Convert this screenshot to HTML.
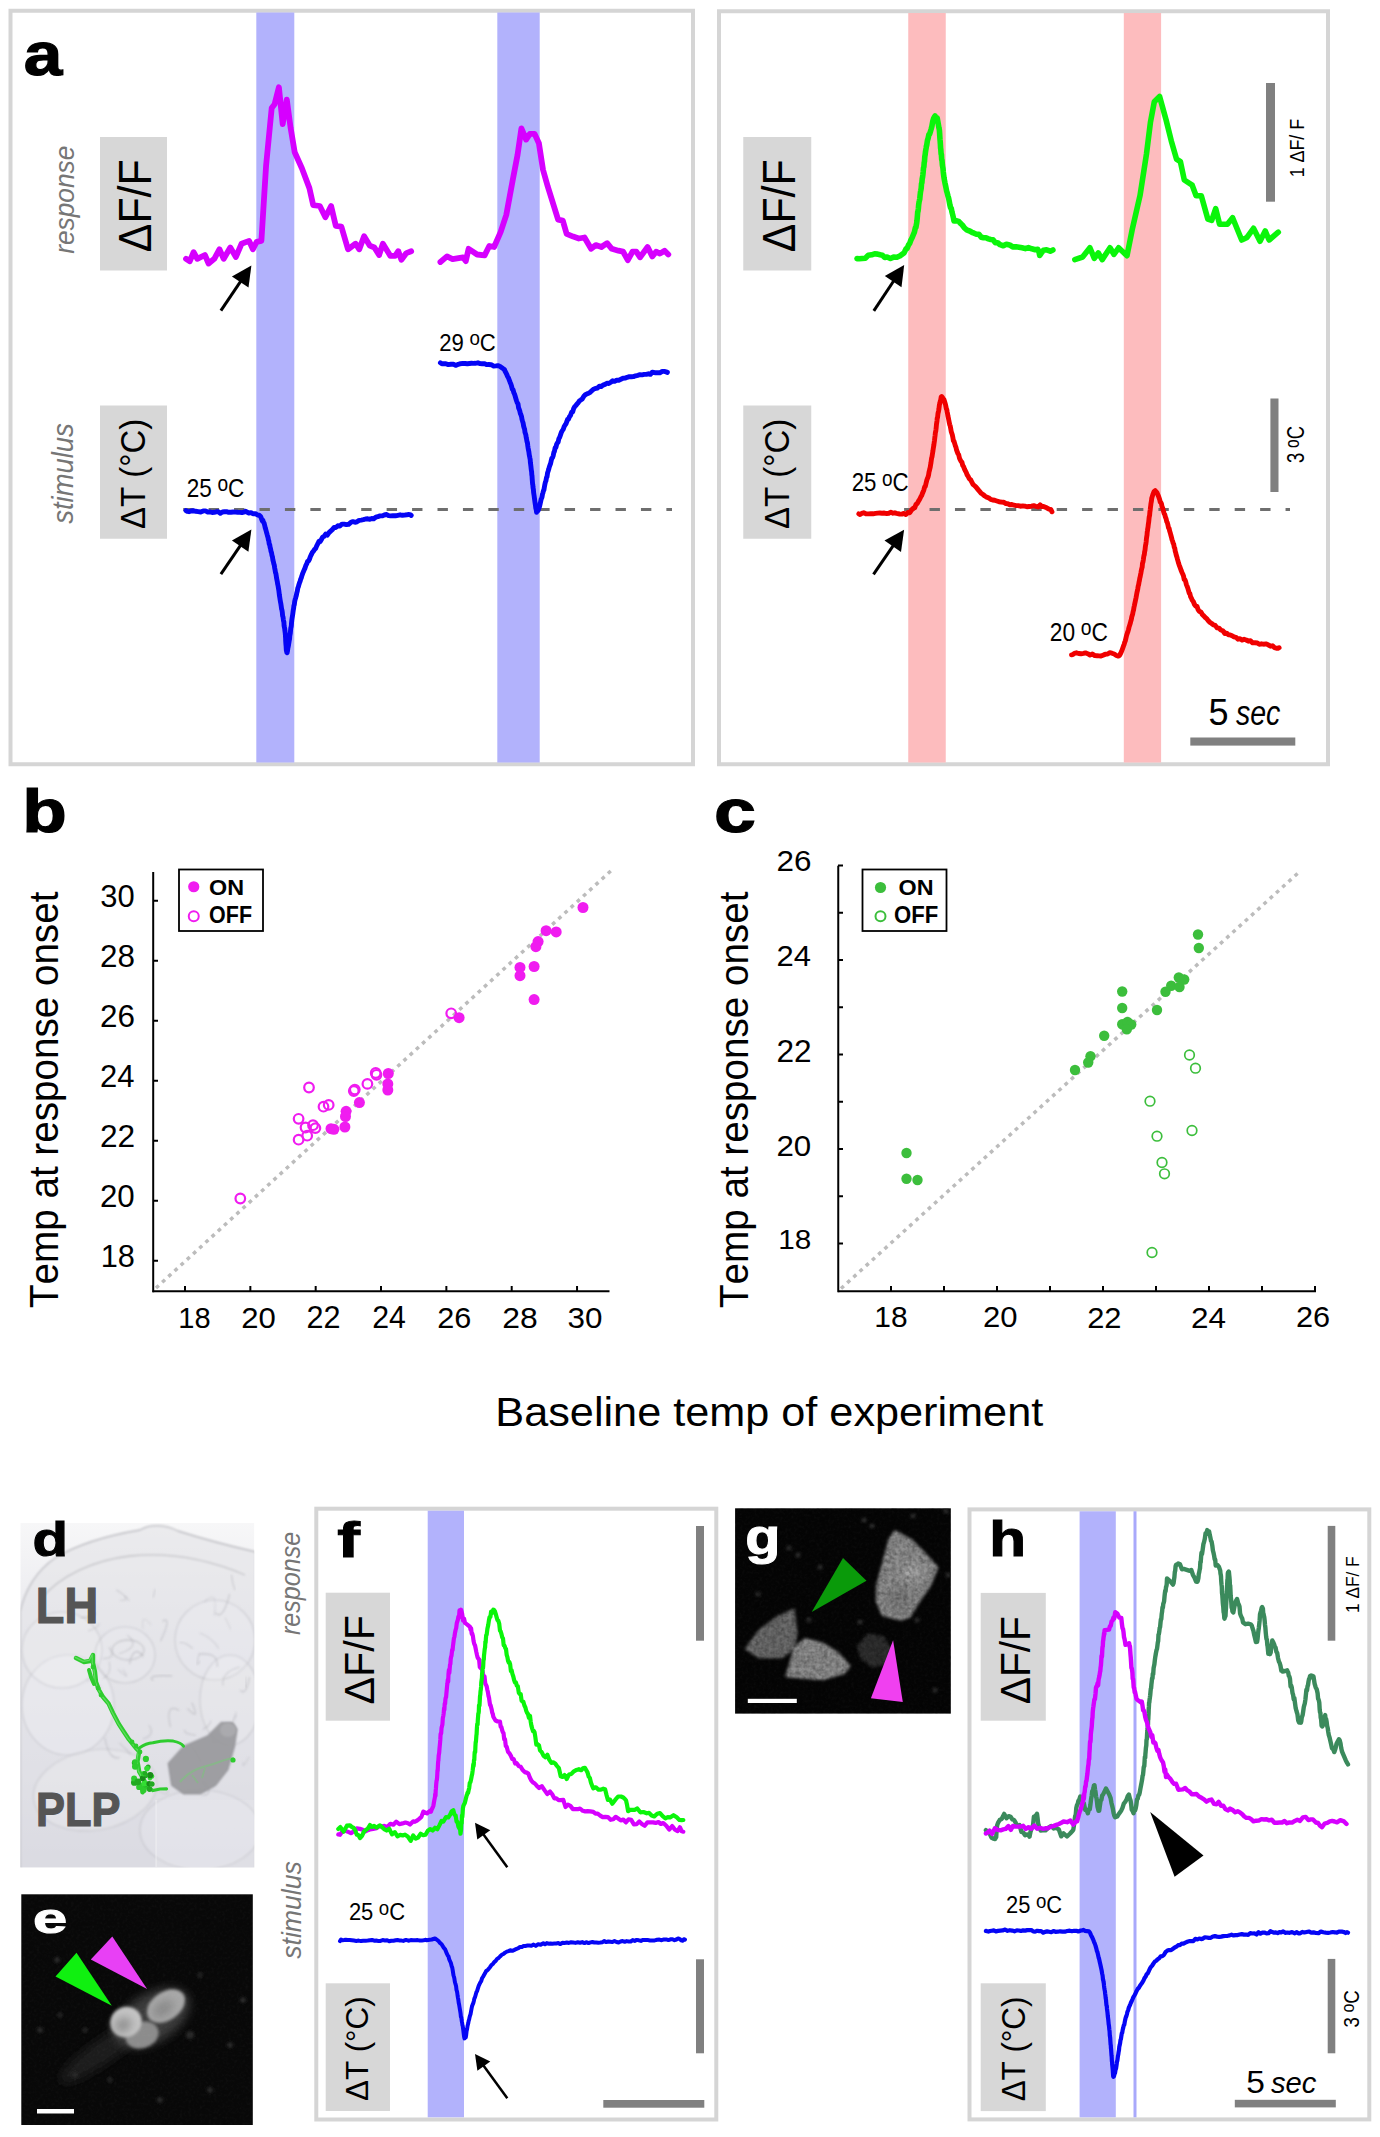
<!DOCTYPE html><html><head><meta charset="utf-8"><style>html,body{margin:0;padding:0;background:#fff;}svg{display:block;}text{font-family:"Liberation Sans", sans-serif;font-kerning:none;}</style></head><body>
<svg width="1380" height="2137" viewBox="0 0 1380 2137">
<defs></defs>
<rect x="0" y="0" width="1380" height="2137" fill="#fff"/>
<rect x="10.5" y="10.75" width="682.5" height="753.5" fill="none" stroke="#d5d5d5" stroke-width="4"/>
<rect x="719" y="11.25" width="609" height="753" fill="none" stroke="#d5d5d5" stroke-width="4"/>
<rect x="256.3" y="12.5" width="38" height="750" fill="#b2b2fc"/>
<rect x="497.3" y="12.5" width="42.4" height="750" fill="#b2b2fc"/>
<rect x="908.25" y="13" width="37.5" height="749.5" fill="#fdbcbe"/>
<rect x="1123.8" y="13" width="37.3" height="749.5" fill="#fdbcbe"/>
<rect x="100.00" y="137.00" width="67.00" height="133.50" fill="#d7d7d7"/>
<rect x="100.00" y="405.50" width="67.00" height="133.25" fill="#d7d7d7"/>
<rect x="743.25" y="137.00" width="68.00" height="133.50" fill="#d7d7d7"/>
<rect x="743.25" y="405.50" width="68.00" height="133.25" fill="#d7d7d7"/>
<rect x="325.70" y="1592.70" width="64.30" height="128.00" fill="#d7d7d7"/>
<rect x="325.70" y="1983.30" width="64.30" height="127.70" fill="#d7d7d7"/>
<rect x="980.70" y="1592.90" width="65.10" height="127.80" fill="#d7d7d7"/>
<rect x="980.70" y="1983.30" width="65.10" height="127.80" fill="#d7d7d7"/>
<line x1="183.2" y1="509.6" x2="672" y2="509.6" stroke="#6e6e6e" stroke-width="3" stroke-dasharray="10.4 15.03"/>
<line x1="904.1" y1="509.6" x2="1290" y2="509.6" stroke="#6e6e6e" stroke-width="3" stroke-dasharray="10.4 15.03"/>
<polyline points="186.0,258.8 189.8,261.2 193.6,252.2 197.3,258.8 204.9,255.0 208.6,263.5 214.3,258.8 219.4,249.3 223.7,258.8 230.3,247.5 235.9,256.9 241.6,243.7 249.1,240.9 252.9,249.3 256.7,241.8 261.4,240.9 264.2,195.7 266.1,165.5 271.7,108.0 274.6,104.3 278.9,87.3 282.7,124.1 286.8,99.6 290.6,127.8 294.7,152.3 301.9,168.3 309.4,188.1 313.2,205.1 319.8,206.0 325.4,217.3 331.1,206.0 335.8,225.8 341.4,226.7 348.0,249.3 355.6,243.7 359.3,249.3 364.1,236.2 369.7,245.6 374.4,247.5 379.1,255.0 382.9,243.7 390.4,255.9 395.1,255.9 398.3,251.2 401.4,259.7 406.4,253.1 411.2,251.2" fill="none" stroke="#d600ff" stroke-width="5.8" stroke-linejoin="round" stroke-linecap="round" />
<polyline points="440.4,262.0 447.0,256.4 452.6,259.2 463.0,257.3 465.8,261.1 468.6,248.8 477.1,254.5 484.6,255.4 489.3,246.0 494.1,247.0 500.7,231.9 506.3,214.9 512.9,179.1 517.6,154.6 521.4,128.3 526.1,139.6 529.9,133.9 534.6,133.9 538.9,143.3 543.0,169.7 547.8,186.7 558.1,219.6 562.8,220.6 566.6,233.8 573.2,236.6 578.8,238.5 584.5,237.5 591.1,248.8 595.8,245.1 601.4,247.0 607.1,243.2 611.8,248.8 618.4,250.7 623.1,251.7 627.8,260.1 632.5,251.7 636.3,251.7 640.1,257.3 647.6,247.0 652.3,256.4 656.1,251.7 659.9,253.6 664.6,250.7 668.3,254.5" fill="none" stroke="#d600ff" stroke-width="5.8" stroke-linejoin="round" stroke-linecap="round" />
<polyline points="186.0,510.6 187.3,511.4 189.0,511.7 191.0,511.0 193.3,510.7 195.7,511.3 198.2,511.6 200.7,512.0 203.2,510.9 205.5,510.9 207.7,512.0 209.9,511.9 212.1,512.5 214.2,512.3 216.2,511.8 218.3,511.8 220.3,513.3 222.4,512.0 224.4,511.8 226.5,511.6 228.7,512.3 230.9,512.3 233.2,512.0 235.5,512.1 237.8,512.3 239.9,512.4 242.0,512.6 243.8,512.2 245.4,511.3 248.8,513.0 251.0,512.6 252.9,513.8 255.4,513.6 257.6,515.0 259.1,515.2 260.7,516.6 262.3,520.8 262.9,520.4 263.5,522.4 264.1,523.1 264.7,525.5 265.3,528.1 265.9,530.0 266.6,532.7 267.3,535.2 268.0,537.5 268.4,539.9 268.8,540.9 269.2,544.0 269.7,544.7 270.1,547.2 270.6,548.9 271.0,551.4 271.5,552.7 272.0,555.6 272.5,557.1 272.9,560.0 273.4,561.8 273.8,563.7 274.3,565.3 274.7,568.2 275.1,570.1 275.5,572.7 275.9,573.7 276.3,576.2 276.6,578.3 277.0,580.2 277.4,582.3 277.7,584.3 278.1,586.0 278.4,587.9 278.8,590.3 279.1,592.8 279.4,595.3 279.7,597.0 280.0,599.0 280.3,600.8 280.6,602.6 280.9,604.1 281.2,606.2 281.6,609.1 282.0,610.3 282.3,612.3 282.6,615.7 283.0,616.9 283.3,619.3 283.6,621.2 283.9,622.1 284.1,625.8 284.4,627.4 284.7,628.5 284.9,630.7 285.2,632.8 285.4,635.0 285.6,638.1 285.7,641.1 285.9,644.1 286.1,646.4 286.2,648.2 286.4,650.7 286.6,650.9 286.8,652.4 287.1,652.6 287.5,651.0 287.8,648.6 288.2,646.7 288.6,644.5 289.1,641.4 289.6,638.6 289.8,635.8 290.0,634.7 290.3,633.2 290.5,631.0 290.8,627.9 291.0,627.5 291.3,626.1 291.5,623.3 291.8,620.2 292.1,618.2 292.4,616.3 292.6,615.3 293.0,612.2 293.3,609.9 293.6,608.5 293.9,605.7 294.3,604.8 294.7,601.4 295.2,599.3 295.7,597.7 296.2,595.9 296.7,593.4 297.3,591.2 297.8,588.1 298.4,586.6 298.9,584.7 299.5,582.8 300.1,581.4 300.7,579.1 301.3,577.9 301.9,575.7 302.7,573.4 303.5,571.5 304.3,569.6 305.1,567.9 305.9,565.3 306.8,563.6 307.7,561.2 308.6,560.9 309.5,559.1 310.4,556.5 311.3,554.7 312.3,552.4 313.4,551.3 314.5,549.4 315.6,548.6 316.7,545.9 317.9,543.7 319.0,541.2 320.2,541.6 321.4,539.5 322.6,537.2 324.1,536.4 325.7,534.0 327.3,535.1 329.0,532.6 330.6,531.1 332.3,529.6 334.0,527.5 335.8,527.5 337.8,525.8 339.9,526.1 342.0,524.1 344.2,524.1 346.4,524.6 348.6,524.3 350.9,522.3 352.9,521.6 355.0,522.3 357.0,521.8 359.1,520.4 361.2,520.1 363.4,519.7 365.6,519.0 367.8,518.8 369.8,519.3 371.8,518.5 373.7,518.8 375.8,517.2 377.8,516.7 379.9,515.9 382.1,515.9 384.3,515.0 386.7,514.5 388.6,515.6 390.7,515.9 393.0,515.6 395.4,515.8 397.8,515.3 400.1,514.8 402.4,515.3 404.6,515.1 406.7,514.8 408.5,514.5 410.0,514.6 411.2,515.4" fill="none" stroke="#0505f5" stroke-width="4.9" stroke-linejoin="round" stroke-linecap="round" />
<polyline points="440.4,362.8 441.8,363.7 443.6,363.6 445.8,363.7 448.3,364.6 450.9,364.3 453.5,364.3 456.0,365.4 458.3,364.3 460.5,363.7 462.8,363.4 465.0,363.5 467.3,363.7 469.5,363.5 471.5,363.3 473.5,363.4 475.2,363.3 477.9,362.8 480.0,363.6 482.0,363.7 484.6,363.6 486.5,364.6 488.8,364.5 491.2,364.7 493.7,366.1 496.0,365.9 498.0,365.6 499.7,366.2 502.6,368.3 504.4,369.5 505.1,371.3 505.9,372.7 506.7,374.3 507.5,376.2 508.4,377.7 509.2,379.8 510.1,382.2 511.0,384.4 511.7,386.8 512.3,389.1 513.1,389.8 513.8,392.6 514.5,394.0 515.2,396.3 515.9,398.7 516.6,401.0 517.3,402.9 518.0,403.9 518.6,407.9 519.2,409.2 519.8,411.0 520.4,413.7 521.0,414.9 521.5,416.4 522.0,419.4 522.6,421.4 523.1,422.9 523.6,426.0 524.2,428.2 524.6,429.2 525.0,432.4 525.4,433.5 525.8,434.7 526.2,437.5 526.6,439.3 527.0,441.7 527.4,442.6 527.8,445.9 528.1,447.9 528.5,449.9 528.9,452.0 529.2,454.5 529.6,456.4 529.9,458.2 530.2,459.6 530.4,462.6 530.7,464.6 530.9,466.3 531.1,468.3 531.4,470.8 531.6,471.3 531.8,474.9 532.0,475.6 532.2,479.0 532.4,481.5 532.6,484.0 532.8,484.7 533.0,487.1 533.2,488.7 533.4,489.3 533.6,492.4 534.0,495.0 534.4,497.9 534.7,500.2 535.1,503.2 535.5,505.7 535.8,508.3 536.2,509.5 536.6,512.3 537.0,511.0 537.6,511.2 538.2,510.3 538.8,508.1 539.5,506.8 540.3,503.3 541.2,499.0 541.6,498.2 542.0,497.1 542.5,494.0 542.9,492.9 543.4,490.7 543.9,490.0 544.4,486.9 544.9,484.3 545.4,482.0 545.9,481.0 546.5,477.6 547.0,476.8 547.6,472.7 548.1,471.3 548.7,469.3 549.3,467.0 549.9,465.2 550.6,463.5 551.2,460.8 551.8,458.3 552.5,457.7 553.2,455.7 553.8,452.6 554.5,451.1 555.2,447.6 555.9,447.5 556.6,444.4 557.4,442.8 558.1,442.3 558.9,438.6 559.7,437.2 560.6,434.6 561.4,432.2 562.3,430.6 563.2,429.4 564.1,426.7 565.0,425.1 565.9,424.0 566.8,421.7 567.6,419.4 568.5,419.1 569.4,416.8 570.5,415.4 571.6,412.2 572.7,411.7 573.7,408.4 574.8,406.5 575.9,405.5 577.0,404.0 578.2,402.8 579.4,400.9 580.7,400.0 582.2,398.9 583.7,396.4 585.3,394.7 586.9,393.9 588.6,393.3 590.4,392.1 592.1,390.4 593.9,389.0 595.8,388.4 597.5,388.0 599.3,386.3 601.2,386.5 603.0,385.1 605.0,384.4 606.9,383.2 608.8,383.5 610.8,382.2 612.7,380.8 614.6,381.3 616.7,380.1 618.8,380.2 620.9,379.2 623.0,378.2 625.1,378.1 627.2,377.3 629.3,376.7 631.4,376.7 633.5,376.6 635.6,375.8 637.8,375.3 639.9,374.7 642.1,374.9 644.2,374.4 646.3,374.4 648.4,373.8 650.4,374.4 652.3,372.2 654.8,372.7 657.3,372.8 659.8,372.8 662.2,371.4 664.3,371.4 666.1,371.9 667.4,372.4" fill="none" stroke="#0505f5" stroke-width="4.9" stroke-linejoin="round" stroke-linecap="round" />
<polyline points="857.0,258.6 859.1,258.8 862.1,258.5 865.3,258.2 868.3,255.3 871.6,254.8 874.6,253.8 877.7,254.1 880.1,254.8 882.4,255.2 884.8,257.5 887.1,257.0 890.4,258.5 893.6,257.1 896.5,257.3 899.8,256.0 902.2,254.2 904.0,252.9 904.9,251.2 906.0,248.8 907.2,248.3 908.5,245.0 909.7,243.4 910.9,240.0 912.1,237.7 913.3,234.7 914.4,232.1 915.4,227.7 915.9,227.4 916.3,225.1 916.7,223.0 917.0,220.4 917.4,215.9 917.7,212.0 918.0,211.5 918.4,208.3 918.7,204.6 919.1,201.8 919.4,200.6 919.8,198.8 920.1,195.3 920.5,191.9 920.8,190.5 921.2,188.1 921.5,183.9 921.9,182.7 922.2,178.8 922.6,176.9 922.9,174.6 923.2,171.7 923.5,168.0 923.9,166.7 924.2,162.6 924.5,161.4 924.8,156.8 925.1,155.1 925.4,152.5 925.8,149.9 926.1,148.2 926.4,146.1 926.7,145.4 927.4,140.6 928.1,138.4 928.9,134.6 929.6,134.1 930.4,131.6 931.1,129.3 931.9,126.3 932.7,121.6 933.6,118.5 934.4,116.9 935.1,116.0 936.2,118.1 937.2,118.0 938.1,123.1 938.9,127.8 939.2,129.0 939.4,130.2 939.6,133.0 939.8,136.6 940.0,139.4 940.2,141.5 940.4,144.6 940.6,148.1 940.8,149.4 941.1,153.9 941.4,154.5 941.7,159.6 942.0,160.1 942.4,165.1 942.7,166.9 943.0,168.5 943.3,172.1 943.6,174.6 944.1,178.3 944.5,180.5 944.9,182.6 945.5,185.3 946.0,187.8 946.6,191.0 947.2,192.9 947.9,195.7 948.6,198.0 949.3,201.6 949.9,205.0 950.6,207.8 951.3,208.4 951.9,211.7 952.6,214.4 953.3,217.3 954.0,220.9 956.3,220.8 958.7,221.4 960.5,223.4 962.3,225.0 964.4,227.9 966.7,229.8 969.2,230.8 971.9,232.3 974.1,233.2 976.5,234.3 978.9,234.2 981.3,237.2 983.6,237.7 986.0,237.8 988.4,238.9 990.7,239.5 993.0,239.7 995.4,242.7 997.7,242.8 1000.1,244.7 1003.3,245.8 1006.4,244.2 1009.6,244.9 1012.7,246.9 1015.9,246.7 1019.0,247.2 1022.1,247.8 1025.3,248.6 1028.4,247.6 1031.8,248.8 1035.2,249.7 1037.8,249.2 1039.1,252.5 1039.7,255.5 1041.1,253.4 1043.5,250.3 1046.6,249.8 1050.3,251.2 1052.9,250.0" fill="none" stroke="#0af50a" stroke-width="5.6" stroke-linejoin="round" stroke-linecap="round" />
<polyline points="1074.8,259.6 1082.6,257.0 1089.9,247.8 1094.3,258.3 1098.3,253.0 1102.2,259.6 1110.0,247.8 1113.9,254.3 1118.6,247.8 1127.0,255.7 1132.2,229.6 1140.0,195.7 1146.5,153.9 1150.4,122.6 1154.3,101.7 1159.6,96.5 1166.1,120.0 1171.3,140.9 1176.5,159.1 1180.4,161.7 1184.3,180.0 1192.2,185.2 1196.1,195.7 1201.3,195.7 1207.8,219.1 1211.7,220.4 1215.7,208.7 1219.6,224.3 1227.4,224.3 1232.6,217.8 1241.7,240.0 1247.0,237.4 1253.5,228.3 1260.0,241.3 1265.2,230.9 1269.1,240.0 1278.3,232.2" fill="none" stroke="#0af50a" stroke-width="5.6" stroke-linejoin="round" stroke-linecap="round" />
<polyline points="858.8,513.8 860.1,514.5 861.7,513.4 863.7,512.8 865.9,513.8 868.3,513.9 870.7,513.8 873.1,513.8 875.5,513.4 877.7,513.1 879.8,513.0 882.1,513.2 884.3,513.0 886.6,513.6 888.8,513.3 890.9,512.3 893.0,513.2 894.8,512.8 896.5,513.4 899.6,514.0 901.9,514.1 903.9,513.4 905.9,514.5 907.9,512.5 909.8,512.7 911.6,509.9 913.5,508.1 914.8,507.6 916.0,504.3 917.2,503.6 918.5,501.1 919.7,499.2 921.0,496.5 921.7,495.6 922.4,493.4 923.1,491.9 923.8,490.2 924.6,487.0 925.3,486.5 926.0,483.5 926.7,480.6 927.3,478.8 928.0,477.1 928.6,474.8 929.0,472.2 929.4,470.7 929.8,468.9 930.2,467.4 930.6,464.8 930.9,463.3 931.3,460.3 931.6,458.2 932.0,456.8 932.3,454.8 932.7,452.3 933.0,450.5 933.3,448.3 933.6,446.5 933.9,444.8 934.2,442.5 934.5,440.5 934.8,437.7 935.1,435.5 935.4,432.4 935.7,431.6 936.0,429.3 936.2,427.4 936.5,424.1 936.7,422.8 937.0,420.8 937.2,418.3 937.5,417.8 937.7,416.2 938.0,413.3 938.5,411.3 938.9,409.2 939.4,404.9 939.8,403.5 940.2,401.6 940.7,400.0 941.2,397.0 941.7,396.5 942.4,397.3 943.2,398.9 944.0,399.6 944.8,402.3 945.6,404.9 946.4,408.9 946.8,409.7 947.2,412.0 947.6,414.0 948.0,416.3 948.4,418.0 948.8,420.1 949.3,422.7 949.7,424.6 950.2,425.9 950.7,428.5 951.2,431.4 951.7,433.0 952.3,434.8 952.8,437.2 953.4,440.8 954.0,441.2 954.7,443.6 955.3,445.7 956.0,447.4 956.6,450.2 957.3,452.0 958.0,453.7 958.7,454.8 959.5,458.2 960.3,459.9 961.1,461.5 961.9,462.1 962.7,465.4 963.6,466.7 964.5,469.1 965.3,470.8 966.2,472.4 967.2,475.0 968.1,476.2 969.3,478.8 970.5,479.5 971.7,481.8 973.0,484.4 974.3,485.5 975.6,486.6 976.9,488.1 978.1,489.6 979.4,491.2 981.2,493.3 983.0,494.5 984.8,496.0 986.7,497.2 988.6,497.8 990.7,499.4 992.6,500.0 994.7,500.3 996.8,501.0 999.0,501.7 1001.2,502.0 1003.5,502.2 1005.8,503.5 1007.8,503.7 1009.8,504.7 1011.9,504.5 1013.9,505.2 1016.1,505.6 1018.2,505.6 1020.5,506.2 1022.8,505.9 1024.8,506.1 1026.9,506.8 1029.1,506.5 1031.4,506.2 1033.7,505.7 1035.9,506.4 1038.1,507.0 1040.1,504.9 1041.9,506.6 1043.5,506.4 1046.7,507.8 1049.0,509.2 1050.8,509.5 1052.0,511.8" fill="none" stroke="#f00000" stroke-width="4.9" stroke-linejoin="round" stroke-linecap="round" />
<polyline points="1071.5,654.9 1072.7,654.7 1074.4,653.3 1076.4,652.8 1078.7,653.5 1081.0,653.8 1083.5,653.4 1085.5,652.9 1087.7,653.7 1090.0,655.0 1092.4,654.0 1094.8,655.6 1097.0,655.7 1099.1,655.9 1100.9,656.1 1103.7,654.9 1105.8,654.1 1107.6,654.1 1109.6,652.6 1111.9,653.2 1114.2,654.0 1116.4,655.5 1118.3,656.1 1119.6,655.3 1120.6,653.5 1121.5,651.5 1122.5,648.8 1123.7,645.4 1124.2,644.2 1124.8,642.0 1125.3,640.9 1125.9,638.4 1126.5,635.7 1127.1,633.8 1127.7,632.2 1128.4,629.9 1129.0,627.4 1129.6,625.4 1130.2,623.6 1130.7,621.5 1131.3,619.5 1131.8,616.8 1132.2,615.5 1132.7,613.9 1133.1,611.6 1133.5,610.3 1134.0,607.2 1134.4,605.5 1134.8,603.5 1135.3,601.2 1135.7,599.3 1136.1,597.4 1136.5,595.1 1136.9,592.8 1137.4,590.6 1137.8,588.7 1138.2,586.0 1138.6,584.9 1139.0,582.3 1139.4,580.6 1139.8,578.2 1140.2,576.7 1140.6,574.4 1141.0,572.4 1141.4,570.0 1141.8,568.4 1142.2,567.0 1142.5,563.2 1142.9,562.3 1143.3,560.1 1143.6,557.7 1144.0,555.3 1144.3,554.7 1144.6,551.9 1145.0,550.2 1145.3,547.3 1145.6,545.0 1145.9,543.8 1146.2,541.5 1146.4,538.9 1146.7,536.8 1147.0,535.1 1147.2,532.4 1147.5,530.4 1147.7,528.8 1148.0,527.3 1148.2,525.4 1148.5,523.2 1148.7,522.0 1149.0,518.9 1149.3,516.4 1149.6,515.5 1149.9,511.8 1150.2,510.1 1150.4,508.0 1150.7,505.7 1150.9,503.9 1151.2,502.3 1151.5,500.5 1151.7,498.5 1152.0,497.4 1153.0,494.1 1154.0,491.7 1155.2,490.7 1156.2,491.8 1157.2,493.1 1158.3,495.7 1159.6,499.3 1160.2,501.9 1160.8,502.5 1161.4,503.6 1162.0,506.5 1162.7,508.2 1163.4,511.0 1164.1,513.3 1164.8,514.7 1165.4,517.1 1166.1,518.7 1166.7,521.6 1167.3,522.5 1167.9,524.8 1168.5,527.9 1169.1,528.3 1169.6,530.8 1170.2,532.7 1170.8,535.0 1171.4,537.0 1172.0,539.6 1172.6,541.1 1173.1,543.1 1173.7,544.2 1174.2,547.1 1174.8,548.3 1175.3,551.6 1175.8,553.1 1176.4,555.7 1176.9,557.0 1177.5,559.4 1178.0,561.2 1178.6,563.3 1179.1,564.8 1179.8,566.7 1180.6,568.9 1181.3,570.8 1182.0,572.5 1182.8,574.2 1183.5,575.9 1184.2,579.4 1185.0,579.9 1185.7,581.7 1186.4,584.6 1187.1,586.3 1187.8,588.1 1188.5,590.7 1189.2,593.1 1189.9,593.7 1190.6,596.7 1191.4,598.1 1192.2,600.2 1193.3,601.5 1194.5,604.5 1195.7,606.2 1196.9,606.2 1198.2,609.8 1199.5,611.6 1200.9,611.9 1202.3,614.5 1203.8,615.9 1205.3,617.6 1206.8,618.7 1208.4,620.9 1210.0,622.4 1211.7,623.5 1213.4,624.9 1215.2,625.4 1217.0,627.8 1218.9,628.1 1220.8,630.0 1222.8,630.7 1224.8,633.5 1226.6,633.1 1228.4,634.8 1230.2,634.9 1232.1,635.7 1234.0,636.9 1236.0,637.3 1238.0,639.2 1240.0,638.6 1242.0,640.1 1244.1,639.3 1246.2,640.0 1248.3,641.2 1250.5,640.7 1252.7,642.9 1255.0,642.7 1257.4,643.0 1259.3,644.3 1261.4,643.8 1263.6,644.2 1265.9,643.9 1268.2,644.8 1270.5,646.2 1272.6,645.8 1274.6,647.7 1276.4,648.3 1277.9,648.4 1279.1,647.7" fill="none" stroke="#f00000" stroke-width="4.9" stroke-linejoin="round" stroke-linecap="round" />
<line x1="220.9" y1="310.6" x2="241.3" y2="280.3" stroke="#000" stroke-width="3"/>
<polygon points="251.4,265.4 248.5,287.6 231.9,276.4" fill="#000"/>
<line x1="220.9" y1="574.1" x2="241.2" y2="544.4" stroke="#000" stroke-width="3"/>
<polygon points="251.4,529.5 248.4,551.7 231.9,540.4" fill="#000"/>
<line x1="873.8" y1="310.8" x2="894.3" y2="280.0" stroke="#000" stroke-width="3"/>
<polygon points="904.2,265.0 901.5,287.2 884.8,276.1" fill="#000"/>
<line x1="873.5" y1="574.4" x2="893.9" y2="544.6" stroke="#000" stroke-width="3"/>
<polygon points="904.1,529.8 901.0,551.9 884.5,540.6" fill="#000"/>
<rect x="1266" y="83" width="9" height="118.7" fill="#808080"/>
<rect x="1270.4" y="398.5" width="8.1" height="93.5" fill="#808080"/>
<rect x="1190.3" y="737.5" width="105" height="8.1" fill="#808080"/>
<text transform="translate(23.77 74.90) scale(1.1281 1)" font-size="61.51" font-weight="bold" font-style="normal" fill="#000" stroke="#000" stroke-width="1.2">a</text>
<text transform="translate(73.81 253.74) rotate(-90) scale(0.9412 1)" font-size="27.90" font-weight="normal" font-style="italic" fill="#767676" >response</text>
<text transform="translate(73.21 523.77) rotate(-90) scale(0.9372 1)" font-size="29.28" font-weight="normal" font-style="italic" fill="#767676" >stimulus</text>
<text transform="translate(150.80 252.28) rotate(-90) scale(0.9336 1)" font-size="45.96" font-weight="normal" font-style="normal" fill="#000" >ΔF/F</text>
<text transform="translate(144.89 528.98) rotate(-90) scale(0.9599 1)" font-size="34.35" font-weight="normal" font-style="normal" fill="#000" >ΔT (°C)</text>
<text transform="translate(794.55 252.28) rotate(-90) scale(0.9336 1)" font-size="45.96" font-weight="normal" font-style="normal" fill="#000" >ΔF/F</text>
<text transform="translate(788.64 528.98) rotate(-90) scale(0.9599 1)" font-size="34.35" font-weight="normal" font-style="normal" fill="#000" >ΔT (°C)</text>
<g transform="translate(186.77 496.50) scale(0.8785 1)" font-size="25.64">
<text x="0" y="0">25</text>
<text x="34.9250" y="-5.8169" font-size="21.79">o</text>
<text x="47.0438" y="0">C</text>
</g>
<g transform="translate(439.29 350.60) scale(0.9083 1)" font-size="24.35">
<text x="0" y="0">29</text>
<text x="33.1690" y="-5.5244" font-size="20.69">o</text>
<text x="44.6785" y="0">C</text>
</g>
<g transform="translate(851.68 491.20) scale(0.8940 1)" font-size="24.92">
<text x="0" y="0">25</text>
<text x="33.9495" y="-5.6544" font-size="21.18">o</text>
<text x="45.7298" y="0">C</text>
</g>
<g transform="translate(1049.76 640.90) scale(0.8864 1)" font-size="25.64">
<text x="0" y="0">20</text>
<text x="34.9250" y="-5.8169" font-size="21.79">o</text>
<text x="47.0438" y="0">C</text>
</g>
<text transform="translate(1303.60 177.36) rotate(-90) scale(0.8687 1)" font-size="20.56" font-weight="normal" font-style="normal" fill="#000" >1 ΔF/ F</text>
<g transform="translate(1304.10 462.90) rotate(-90) scale(0.7900 1)" font-size="23.34">
<text x="0" y="0">3</text>
<text x="18.8202" y="-5.2969" font-size="19.84">o</text>
<text x="29.8558" y="0">C</text>
</g>
<text transform="translate(1208.46 725.05) scale(0.9986 1)" font-size="36.12" font-weight="normal" font-style="normal" fill="#000" >5</text>
<text transform="translate(1235.93 725.26) scale(0.8201 1)" font-size="34.86" font-weight="normal" font-style="italic" fill="#000" >sec</text>
<line x1="152.5" y1="1291.25" x2="609.5" y2="1291.25" stroke="#000" stroke-width="2"/>
<line x1="153.2" y1="872" x2="153.2" y2="1292.2" stroke="#000" stroke-width="2"/>
<line x1="185.00" y1="1291" x2="185.00" y2="1286" stroke="#000" stroke-width="2"/>
<line x1="250.34" y1="1291" x2="250.34" y2="1286" stroke="#000" stroke-width="2"/>
<line x1="315.68" y1="1291" x2="315.68" y2="1286" stroke="#000" stroke-width="2"/>
<line x1="381.02" y1="1291" x2="381.02" y2="1286" stroke="#000" stroke-width="2"/>
<line x1="446.36" y1="1291" x2="446.36" y2="1286" stroke="#000" stroke-width="2"/>
<line x1="511.70" y1="1291" x2="511.70" y2="1286" stroke="#000" stroke-width="2"/>
<line x1="577.04" y1="1291" x2="577.04" y2="1286" stroke="#000" stroke-width="2"/>
<line x1="153" y1="1260.75" x2="158" y2="1260.75" stroke="#000" stroke-width="2"/>
<line x1="153" y1="1200.75" x2="158" y2="1200.75" stroke="#000" stroke-width="2"/>
<line x1="153" y1="1140.75" x2="158" y2="1140.75" stroke="#000" stroke-width="2"/>
<line x1="153" y1="1080.75" x2="158" y2="1080.75" stroke="#000" stroke-width="2"/>
<line x1="153" y1="1020.75" x2="158" y2="1020.75" stroke="#000" stroke-width="2"/>
<line x1="153" y1="960.75" x2="158" y2="960.75" stroke="#000" stroke-width="2"/>
<line x1="153" y1="900.75" x2="158" y2="900.75" stroke="#000" stroke-width="2"/>
<text transform="translate(100.66 1267.05) scale(0.9979 1)" font-size="30.79" font-weight="normal" font-style="normal" fill="#000" >18</text>
<text transform="translate(99.93 1207.05) scale(1.0160 1)" font-size="30.79" font-weight="normal" font-style="normal" fill="#000" >20</text>
<text transform="translate(99.91 1147.35) scale(1.0131 1)" font-size="31.22" font-weight="normal" font-style="normal" fill="#000" >22</text>
<text transform="translate(99.94 1087.35) scale(0.9925 1)" font-size="31.22" font-weight="normal" font-style="normal" fill="#000" >24</text>
<text transform="translate(99.92 1027.05) scale(1.0208 1)" font-size="30.79" font-weight="normal" font-style="normal" fill="#000" >26</text>
<text transform="translate(99.92 967.05) scale(1.0203 1)" font-size="30.79" font-weight="normal" font-style="normal" fill="#000" >28</text>
<text transform="translate(100.32 907.05) scale(1.0040 1)" font-size="30.79" font-weight="normal" font-style="normal" fill="#000" >30</text>
<text transform="translate(178.28 1327.51) scale(0.9677 1)" font-size="30.08" font-weight="normal" font-style="normal" fill="#000" >18</text>
<text transform="translate(241.24 1327.51) scale(1.0333 1)" font-size="30.08" font-weight="normal" font-style="normal" fill="#000" >20</text>
<text transform="translate(306.46 1327.80) scale(1.0045 1)" font-size="30.51" font-weight="normal" font-style="normal" fill="#000" >22</text>
<text transform="translate(372.23 1327.80) scale(0.9920 1)" font-size="30.51" font-weight="normal" font-style="normal" fill="#000" >24</text>
<text transform="translate(437.21 1327.51) scale(1.0203 1)" font-size="30.08" font-weight="normal" font-style="normal" fill="#000" >26</text>
<text transform="translate(502.15 1327.51) scale(1.0606 1)" font-size="30.08" font-weight="normal" font-style="normal" fill="#000" >28</text>
<text transform="translate(567.55 1327.51) scale(1.0436 1)" font-size="30.08" font-weight="normal" font-style="normal" fill="#000" >30</text>
<line x1="156" y1="1288" x2="611" y2="870.75" stroke="#bcbcbc" stroke-width="3.5" stroke-dasharray="3.8 4.6"/>
<circle cx="309.0" cy="1087.5" r="4.8" fill="none" stroke="#f01cf0" stroke-width="2.2"/>
<circle cx="323.5" cy="1106.7" r="4.8" fill="none" stroke="#f01cf0" stroke-width="2.2"/>
<circle cx="328.7" cy="1104.9" r="4.8" fill="none" stroke="#f01cf0" stroke-width="2.2"/>
<circle cx="298.6" cy="1118.8" r="4.8" fill="none" stroke="#f01cf0" stroke-width="2.2"/>
<circle cx="305.5" cy="1127.5" r="4.8" fill="none" stroke="#f01cf0" stroke-width="2.2"/>
<circle cx="313.0" cy="1125.2" r="4.8" fill="none" stroke="#f01cf0" stroke-width="2.2"/>
<circle cx="315.4" cy="1128.1" r="4.8" fill="none" stroke="#f01cf0" stroke-width="2.2"/>
<circle cx="307.2" cy="1135.7" r="4.8" fill="none" stroke="#f01cf0" stroke-width="2.2"/>
<circle cx="298.6" cy="1139.7" r="4.8" fill="none" stroke="#f01cf0" stroke-width="2.2"/>
<circle cx="354.8" cy="1089.6" r="4.8" fill="none" stroke="#f01cf0" stroke-width="2.2"/>
<circle cx="353.8" cy="1091.0" r="4.8" fill="none" stroke="#f01cf0" stroke-width="2.2"/>
<circle cx="367.4" cy="1083.9" r="4.8" fill="none" stroke="#f01cf0" stroke-width="2.2"/>
<circle cx="375.7" cy="1073.0" r="4.8" fill="none" stroke="#f01cf0" stroke-width="2.2"/>
<circle cx="376.5" cy="1074.8" r="4.8" fill="none" stroke="#f01cf0" stroke-width="2.2"/>
<circle cx="451.2" cy="1013.3" r="4.8" fill="none" stroke="#f01cf0" stroke-width="2.2"/>
<circle cx="240.3" cy="1198.5" r="4.8" fill="none" stroke="#f01cf0" stroke-width="2.2"/>
<circle cx="388.3" cy="1073.5" r="5.5" fill="#f01cf0"/>
<circle cx="387.8" cy="1083.9" r="5.5" fill="#f01cf0"/>
<circle cx="387.8" cy="1090.0" r="5.5" fill="#f01cf0"/>
<circle cx="359.4" cy="1102.6" r="5.5" fill="#f01cf0"/>
<circle cx="346.1" cy="1111.3" r="5.5" fill="#f01cf0"/>
<circle cx="345.5" cy="1116.5" r="5.5" fill="#f01cf0"/>
<circle cx="344.9" cy="1127.0" r="5.5" fill="#f01cf0"/>
<circle cx="331.0" cy="1128.7" r="5.5" fill="#f01cf0"/>
<circle cx="333.9" cy="1129.3" r="5.5" fill="#f01cf0"/>
<circle cx="459.1" cy="1017.7" r="5.5" fill="#f01cf0"/>
<circle cx="583.0" cy="907.5" r="5.5" fill="#f01cf0"/>
<circle cx="546.1" cy="930.7" r="5.5" fill="#f01cf0"/>
<circle cx="556.2" cy="931.9" r="5.5" fill="#f01cf0"/>
<circle cx="538.1" cy="941.6" r="5.5" fill="#f01cf0"/>
<circle cx="535.9" cy="946.7" r="5.5" fill="#f01cf0"/>
<circle cx="520.0" cy="967.4" r="5.5" fill="#f01cf0"/>
<circle cx="520.0" cy="975.7" r="5.5" fill="#f01cf0"/>
<circle cx="534.1" cy="966.5" r="5.5" fill="#f01cf0"/>
<circle cx="534.1" cy="999.6" r="5.5" fill="#f01cf0"/>
<rect x="179" y="869.5" width="84" height="61.5" fill="#fff" stroke="#000" stroke-width="1.8"/>
<circle cx="193.75" cy="886.75" r="5.6" fill="#f01cf0"/>
<circle cx="193.75" cy="916.25" r="5" fill="none" stroke="#f01cf0" stroke-width="2"/>
<text transform="translate(209.04 894.78) scale(1.0175 1)" font-size="22.95" font-weight="bold" font-style="normal" fill="#000" >ON</text>
<text transform="translate(209.12 922.77) scale(0.9210 1)" font-size="23.30" font-weight="bold" font-style="normal" fill="#000" >OFF</text>
<text transform="translate(22.19 831.89) scale(1.1771 1)" font-size="61.96" font-weight="bold" font-style="normal" fill="#000" stroke="#000" stroke-width="1.2">b</text>
<text transform="translate(57.79 1307.97) rotate(-90) scale(0.9527 1)" font-size="40.54" font-weight="normal" font-style="normal" fill="#000" >Temp at response onset</text>
<line x1="838.25" y1="1291.25" x2="1316" y2="1291.25" stroke="#000" stroke-width="2"/>
<line x1="838.25" y1="865.75" x2="838.25" y2="1292.2" stroke="#000" stroke-width="2"/>
<line x1="891.00" y1="1291" x2="891.00" y2="1286" stroke="#000" stroke-width="2"/>
<line x1="944.00" y1="1291" x2="944.00" y2="1286" stroke="#000" stroke-width="2"/>
<line x1="997.00" y1="1291" x2="997.00" y2="1286" stroke="#000" stroke-width="2"/>
<line x1="1050.00" y1="1291" x2="1050.00" y2="1286" stroke="#000" stroke-width="2"/>
<line x1="1103.00" y1="1291" x2="1103.00" y2="1286" stroke="#000" stroke-width="2"/>
<line x1="1156.00" y1="1291" x2="1156.00" y2="1286" stroke="#000" stroke-width="2"/>
<line x1="1209.00" y1="1291" x2="1209.00" y2="1286" stroke="#000" stroke-width="2"/>
<line x1="1262.00" y1="1291" x2="1262.00" y2="1286" stroke="#000" stroke-width="2"/>
<line x1="1315.00" y1="1291" x2="1315.00" y2="1286" stroke="#000" stroke-width="2"/>
<line x1="838" y1="1243.50" x2="843" y2="1243.50" stroke="#000" stroke-width="2"/>
<line x1="838" y1="1196.25" x2="843" y2="1196.25" stroke="#000" stroke-width="2"/>
<line x1="838" y1="1149.00" x2="843" y2="1149.00" stroke="#000" stroke-width="2"/>
<line x1="838" y1="1101.75" x2="843" y2="1101.75" stroke="#000" stroke-width="2"/>
<line x1="838" y1="1054.50" x2="843" y2="1054.50" stroke="#000" stroke-width="2"/>
<line x1="838" y1="1007.25" x2="843" y2="1007.25" stroke="#000" stroke-width="2"/>
<line x1="838" y1="960.00" x2="843" y2="960.00" stroke="#000" stroke-width="2"/>
<line x1="838" y1="912.75" x2="843" y2="912.75" stroke="#000" stroke-width="2"/>
<line x1="838" y1="865.50" x2="843" y2="865.50" stroke="#000" stroke-width="2"/>
<text transform="translate(778.24 1249.03) scale(1.0680 1)" font-size="27.82" font-weight="normal" font-style="normal" fill="#000" >18</text>
<text transform="translate(776.43 1156.20) scale(1.0301 1)" font-size="30.37" font-weight="normal" font-style="normal" fill="#000" >20</text>
<text transform="translate(776.41 1061.50) scale(1.0369 1)" font-size="30.51" font-weight="normal" font-style="normal" fill="#000" >22</text>
<text transform="translate(776.44 966.25) scale(1.0818 1)" font-size="28.64" font-weight="normal" font-style="normal" fill="#000" >24</text>
<text transform="translate(776.42 871.47) scale(1.0856 1)" font-size="28.95" font-weight="normal" font-style="normal" fill="#000" >26</text>
<text transform="translate(874.22 1327.21) scale(1.0056 1)" font-size="29.80" font-weight="normal" font-style="normal" fill="#000" >18</text>
<text transform="translate(982.94 1327.21) scale(1.0415 1)" font-size="29.80" font-weight="normal" font-style="normal" fill="#000" >20</text>
<text transform="translate(1087.20 1327.50) scale(1.0221 1)" font-size="30.22" font-weight="normal" font-style="normal" fill="#000" >22</text>
<text transform="translate(1190.92 1327.50) scale(1.0414 1)" font-size="30.22" font-weight="normal" font-style="normal" fill="#000" >24</text>
<text transform="translate(1295.96 1327.21) scale(1.0300 1)" font-size="29.80" font-weight="normal" font-style="normal" fill="#000" >26</text>
<line x1="841" y1="1288.5" x2="1300" y2="871.25" stroke="#bcbcbc" stroke-width="3.5" stroke-dasharray="3.8 4.6"/>
<circle cx="1189.5" cy="1055.0" r="4.8" fill="none" stroke="#3cbe3c" stroke-width="1.7"/>
<circle cx="1195.5" cy="1068.2" r="4.8" fill="none" stroke="#3cbe3c" stroke-width="1.7"/>
<circle cx="1150.0" cy="1101.2" r="4.8" fill="none" stroke="#3cbe3c" stroke-width="1.7"/>
<circle cx="1192.0" cy="1130.5" r="4.8" fill="none" stroke="#3cbe3c" stroke-width="1.7"/>
<circle cx="1157.0" cy="1136.2" r="4.8" fill="none" stroke="#3cbe3c" stroke-width="1.7"/>
<circle cx="1162.0" cy="1162.5" r="4.8" fill="none" stroke="#3cbe3c" stroke-width="1.7"/>
<circle cx="1164.5" cy="1173.8" r="4.8" fill="none" stroke="#3cbe3c" stroke-width="1.7"/>
<circle cx="1152.0" cy="1252.5" r="4.8" fill="none" stroke="#3cbe3c" stroke-width="1.7"/>
<circle cx="1198.0" cy="934.5" r="5.2" fill="#3cbe3c"/>
<circle cx="1198.8" cy="948.0" r="5.2" fill="#3cbe3c"/>
<circle cx="1178.8" cy="977.5" r="5.2" fill="#3cbe3c"/>
<circle cx="1184.2" cy="979.5" r="5.2" fill="#3cbe3c"/>
<circle cx="1171.2" cy="985.8" r="5.2" fill="#3cbe3c"/>
<circle cx="1179.5" cy="987.0" r="5.2" fill="#3cbe3c"/>
<circle cx="1165.5" cy="991.8" r="5.2" fill="#3cbe3c"/>
<circle cx="1157.0" cy="1010.0" r="5.2" fill="#3cbe3c"/>
<circle cx="1122.2" cy="991.5" r="5.2" fill="#3cbe3c"/>
<circle cx="1122.2" cy="1008.0" r="5.2" fill="#3cbe3c"/>
<circle cx="1122.2" cy="1024.2" r="5.2" fill="#3cbe3c"/>
<circle cx="1127.5" cy="1022.0" r="5.2" fill="#3cbe3c"/>
<circle cx="1131.2" cy="1024.5" r="5.2" fill="#3cbe3c"/>
<circle cx="1126.8" cy="1029.2" r="5.2" fill="#3cbe3c"/>
<circle cx="1104.2" cy="1035.8" r="5.2" fill="#3cbe3c"/>
<circle cx="1090.5" cy="1056.2" r="5.2" fill="#3cbe3c"/>
<circle cx="1088.2" cy="1062.5" r="5.2" fill="#3cbe3c"/>
<circle cx="1075.0" cy="1070.0" r="5.2" fill="#3cbe3c"/>
<circle cx="906.5" cy="1153.0" r="5.2" fill="#3cbe3c"/>
<circle cx="906.5" cy="1178.8" r="5.2" fill="#3cbe3c"/>
<circle cx="917.5" cy="1180.0" r="5.2" fill="#3cbe3c"/>
<rect x="862.5" y="869.5" width="84" height="61.5" fill="#fff" stroke="#000" stroke-width="1.8"/>
<circle cx="880.5" cy="887.5" r="5.6" fill="#3cbe3c"/>
<circle cx="880.5" cy="916.25" r="5" fill="none" stroke="#3cbe3c" stroke-width="2"/>
<text transform="translate(898.54 894.78) scale(1.0175 1)" font-size="22.95" font-weight="bold" font-style="normal" fill="#000" >ON</text>
<text transform="translate(894.09 922.77) scale(0.9489 1)" font-size="23.30" font-weight="bold" font-style="normal" fill="#000" >OFF</text>
<text transform="translate(714.06 831.90) scale(1.2230 1)" font-size="61.60" font-weight="bold" font-style="normal" fill="#000" stroke="#000" stroke-width="1.2">c</text>
<text transform="translate(747.79 1307.97) rotate(-90) scale(0.9527 1)" font-size="40.54" font-weight="normal" font-style="normal" fill="#000" >Temp at response onset</text>
<text transform="translate(495.35 1426.43) scale(1.0472 1)" font-size="41.30" font-weight="normal" font-style="normal" fill="#000" >Baseline temp of experiment</text>
<rect x="316.3" y="1508.7" width="400" height="610.8" fill="none" stroke="#d5d5d5" stroke-width="4"/>
<rect x="427.7" y="1510.7" width="36.3" height="606.6" fill="#b2b2fc"/>
<polyline points="338.3,1834.4 340.0,1834.8 342.4,1831.4 345.2,1830.7 348.2,1831.9 351.3,1833.2 354.2,1830.9 356.7,1828.4 359.8,1828.8 362.7,1829.8 365.4,1831.3 367.8,1830.1 370.0,1829.5 373.1,1829.0 376.7,1828.3 378.9,1826.3 381.5,1826.5 384.4,1825.9 387.4,1826.9 390.4,1823.8 393.3,1824.7 396.2,1821.7 399.4,1824.2 402.5,1823.4 405.4,1822.5 408.0,1823.3 410.0,1824.6 413.3,1821.3 414.9,1821.8 417.0,1820.6 419.2,1818.8 421.4,1816.9 423.3,1811.6 427.0,1813.4 430.0,1810.8 430.9,1811.8 431.8,1809.3 432.6,1807.8 433.4,1805.7 434.2,1800.8 435.0,1796.9 435.2,1794.0 435.5,1796.0 435.7,1790.5 435.9,1789.0 436.2,1784.3 436.4,1782.3 436.6,1780.6 436.8,1780.3 437.1,1777.6 437.3,1774.2 437.5,1770.2 437.7,1770.8 438.0,1764.0 438.2,1761.4 438.4,1760.4 438.7,1755.5 438.9,1754.4 439.2,1752.6 439.5,1748.5 439.7,1746.5 440.0,1743.4 440.3,1739.9 440.6,1733.9 440.9,1734.0 441.2,1733.1 441.5,1728.3 441.8,1727.1 442.1,1725.6 442.4,1724.6 442.8,1718.3 443.1,1716.8 443.4,1715.3 443.7,1713.2 444.1,1708.0 444.4,1709.9 444.7,1703.7 445.1,1703.8 445.4,1699.5 445.7,1697.9 446.1,1697.2 446.4,1693.4 446.7,1690.2 447.1,1685.9 447.4,1683.6 447.8,1679.7 448.2,1681.7 448.5,1674.0 448.9,1669.9 449.3,1673.0 449.6,1669.8 450.0,1664.8 450.4,1663.9 450.7,1659.0 451.1,1656.8 451.5,1655.7 451.8,1653.1 452.2,1649.5 452.6,1650.1 452.9,1646.6 453.3,1643.5 453.9,1638.4 454.4,1636.9 455.0,1632.9 455.6,1630.0 456.2,1628.0 456.8,1623.1 457.3,1621.5 457.9,1619.6 458.4,1616.7 459.0,1617.5 459.5,1610.4 460.0,1611.7 461.1,1609.8 462.1,1613.6 463.1,1620.7 464.0,1618.6 465.0,1622.9 467.3,1624.6 470.0,1626.9 470.5,1629.6 471.1,1628.1 471.7,1633.9 472.3,1633.7 472.9,1636.0 473.6,1641.3 474.3,1644.1 475.0,1645.3 475.6,1648.2 476.3,1651.9 477.0,1655.0 477.6,1657.4 478.3,1658.6 479.1,1659.5 479.8,1667.1 480.6,1667.9 481.4,1668.4 482.2,1670.2 483.0,1673.8 483.8,1676.5 484.5,1676.4 485.3,1683.7 486.0,1684.8 486.7,1686.3 487.3,1689.7 487.9,1692.1 488.5,1696.0 489.0,1697.6 489.6,1701.9 490.1,1705.1 490.6,1705.3 491.2,1707.7 491.7,1709.6 492.2,1712.7 492.8,1714.0 493.3,1716.7 495.5,1720.5 497.8,1721.5 500.0,1721.7 500.7,1726.7 501.4,1727.1 502.1,1730.0 502.8,1732.2 503.5,1733.1 504.2,1739.2 505.0,1739.2 505.8,1745.9 506.7,1746.8 508.0,1751.7 509.3,1753.1 510.8,1755.6 512.2,1759.0 513.7,1759.2 515.2,1763.5 516.7,1763.1 518.7,1766.0 520.7,1766.7 522.7,1770.1 524.7,1772.1 526.7,1772.6 528.3,1773.6 529.9,1777.7 531.5,1780.8 533.1,1782.4 534.8,1783.5 536.7,1785.7 539.1,1788.1 541.8,1786.1 544.5,1790.1 547.3,1794.0 550.0,1791.5 552.2,1794.3 554.3,1798.3 556.4,1798.4 558.6,1800.1 560.9,1800.1 563.3,1799.9 565.5,1807.0 567.9,1804.7 570.4,1805.9 572.9,1809.1 575.4,1809.1 577.8,1809.2 580.0,1808.5 582.8,1810.8 585.2,1811.4 587.7,1811.2 590.3,1811.4 593.3,1811.9 595.5,1813.7 597.7,1813.6 600.2,1815.6 602.7,1817.1 605.3,1816.8 607.9,1817.1 610.6,1819.8 613.3,1819.2 615.7,1816.8 618.2,1818.5 620.7,1820.4 623.3,1819.5 625.9,1822.4 628.5,1819.4 631.2,1819.8 633.9,1824.3 636.7,1824.1 639.3,1821.4 641.9,1823.9 644.7,1825.8 647.4,1822.4 650.2,1822.4 653.0,1822.4 655.7,1822.9 658.4,1822.0 660.9,1824.0 663.3,1823.0 666.3,1825.7 669.2,1829.6 672.2,1826.0 675.0,1829.7 677.6,1831.1 679.9,1827.2 681.8,1831.3 683.3,1831.7" fill="none" stroke="#d600ff" stroke-width="4.2" stroke-linejoin="round" stroke-linecap="round" />
<polyline points="338.3,1829.1 340.4,1827.1 343.5,1831.7 346.9,1825.7 350.0,1825.3 351.8,1827.1 353.5,1827.7 355.1,1830.0 356.7,1834.6 358.4,1835.0 360.0,1838.1 362.0,1835.8 364.0,1831.5 366.0,1829.9 368.0,1828.4 370.0,1825.0 372.1,1827.0 374.1,1825.9 376.4,1827.7 380.0,1825.3 381.9,1826.9 384.1,1829.1 386.6,1830.5 389.2,1828.8 392.0,1834.4 394.8,1832.1 397.5,1836.3 400.2,1834.9 402.7,1835.5 405.0,1834.6 408.0,1836.8 410.7,1840.9 413.2,1835.5 415.7,1838.6 418.1,1837.5 420.7,1833.7 423.3,1835.2 425.5,1834.7 427.8,1830.7 430.2,1829.1 432.6,1830.5 435.0,1827.8 437.3,1829.3 439.5,1825.1 441.5,1821.0 443.3,1821.6 446.0,1817.2 448.2,1817.5 450.0,1814.8 451.7,1811.2 453.3,1810.2 454.5,1814.7 455.6,1815.4 456.6,1821.8 457.5,1821.9 458.4,1826.5 459.3,1828.4 460.0,1828.3 460.5,1833.7 461.0,1830.2 461.3,1823.8 461.7,1823.1 462.0,1815.4 462.3,1817.1 462.6,1813.6 462.9,1808.4 463.3,1806.1 464.1,1804.2 464.8,1802.9 465.6,1799.7 466.7,1795.3 467.1,1794.6 467.6,1792.6 468.1,1792.9 468.7,1789.8 469.2,1788.1 469.8,1782.7 470.4,1782.4 471.0,1779.8 471.6,1776.6 472.2,1774.1 472.7,1770.2 473.3,1764.2 473.5,1766.5 473.8,1764.5 474.0,1760.0 474.3,1759.8 474.5,1755.0 474.7,1752.1 475.0,1751.5 475.2,1752.1 475.4,1746.8 475.7,1741.8 475.9,1742.2 476.2,1738.2 476.4,1735.3 476.6,1734.4 476.9,1728.2 477.1,1725.4 477.4,1723.2 477.6,1724.7 477.8,1720.3 478.1,1716.4 478.3,1713.6 478.6,1713.1 478.8,1711.5 479.0,1705.5 479.3,1704.6 479.5,1705.6 479.8,1700.2 480.0,1696.2 480.3,1694.7 480.5,1691.5 480.8,1689.7 481.1,1686.4 481.3,1682.2 481.6,1680.0 481.9,1678.1 482.1,1673.5 482.4,1671.9 482.7,1667.5 483.0,1668.3 483.2,1666.1 483.5,1659.4 483.8,1659.6 484.0,1655.8 484.3,1653.1 484.6,1650.1 484.8,1648.5 485.1,1647.4 485.4,1641.3 485.6,1642.9 485.9,1638.6 486.2,1635.2 486.4,1635.1 486.7,1634.5 487.4,1628.7 488.2,1625.2 488.9,1620.5 489.6,1617.0 490.4,1617.0 491.1,1611.6 491.8,1613.3 492.6,1611.1 493.3,1609.6 494.1,1610.1 495.0,1611.5 495.8,1614.2 496.6,1617.1 497.5,1620.2 498.3,1620.6 499.2,1623.6 500.0,1630.7 500.7,1631.5 501.5,1634.1 502.2,1637.3 503.0,1638.4 503.7,1645.4 504.5,1645.5 505.2,1647.9 506.0,1649.0 506.7,1654.9 507.4,1657.2 508.1,1661.0 508.8,1662.6 509.5,1662.3 510.1,1664.1 510.9,1671.0 511.6,1670.3 512.4,1673.9 513.3,1676.5 514.1,1680.0 515.0,1682.5 515.9,1682.4 516.8,1685.6 517.8,1686.3 518.8,1692.7 519.8,1694.1 520.7,1694.0 521.6,1700.8 522.5,1701.4 523.3,1701.7 524.4,1705.5 525.4,1707.5 526.2,1710.7 527.1,1712.9 527.9,1713.7 528.9,1717.8 530.0,1715.8 530.7,1721.6 531.4,1725.6 532.2,1728.6 533.0,1731.1 533.8,1730.8 534.6,1732.5 535.4,1737.5 536.3,1744.6 537.2,1743.9 538.1,1744.7 539.0,1745.4 540.0,1750.3 541.7,1752.1 543.6,1755.9 545.5,1757.3 547.4,1754.7 549.4,1759.9 551.4,1762.9 553.3,1762.4 555.2,1763.5 557.0,1766.0 558.9,1768.2 560.7,1776.3 562.6,1777.0 564.6,1775.1 566.7,1779.0 569.0,1774.6 571.4,1773.9 573.9,1771.3 576.5,1769.9 578.9,1769.2 581.2,1770.2 583.3,1768.0 584.9,1767.8 586.3,1770.3 587.5,1772.4 588.7,1776.6 589.8,1777.8 591.0,1782.7 592.1,1785.6 593.3,1788.3 595.9,1787.3 598.5,1789.7 601.0,1789.6 603.3,1788.7 605.1,1789.2 606.4,1794.6 607.9,1799.8 610.0,1799.6 612.3,1803.7 615.2,1799.9 618.1,1796.5 621.0,1796.5 623.3,1797.5 624.9,1799.0 626.0,1800.3 626.9,1804.2 628.1,1811.1 630.0,1809.9 632.1,1809.9 634.6,1809.8 637.3,1808.5 640.3,1812.3 643.4,1812.0 646.7,1813.3 649.1,1812.9 651.6,1815.5 654.3,1816.4 657.2,1813.8 660.0,1813.1 662.7,1816.2 665.4,1818.3 667.8,1817.1 670.0,1817.5 673.5,1815.2 676.7,1817.3 679.4,1819.9 681.7,1820.2 683.3,1820.0" fill="none" stroke="#0af50a" stroke-width="4.2" stroke-linejoin="round" stroke-linecap="round" />
<polyline points="340.0,1941.1 341.1,1939.5 342.5,1940.2 344.0,1940.0 345.8,1939.7 347.7,1939.9 349.7,1940.0 351.8,1940.3 354.0,1940.6 356.3,1940.9 358.6,1940.6 361.0,1941.1 363.3,1940.8 365.6,1940.7 367.8,1940.5 370.0,1940.2 372.0,1939.9 374.1,1940.7 376.2,1940.6 378.3,1940.9 380.5,1940.9 382.7,1940.1 384.9,1940.4 387.1,1940.2 389.2,1941.3 391.4,1940.7 393.5,1940.8 395.6,1940.3 397.6,1940.1 399.6,1940.4 401.5,1940.6 403.3,1940.9 405.9,1939.9 408.4,1940.7 410.8,1940.1 413.2,1940.2 415.5,1940.2 417.6,1940.1 419.7,1940.5 421.7,1940.6 423.5,1940.3 425.2,1939.8 426.7,1940.2 429.8,1939.8 431.8,1939.5 433.3,1939.0 435.0,1938.5 436.7,1939.7 438.3,1940.8 440.0,1942.9 441.6,1944.2 443.3,1947.1 444.1,1948.2 445.0,1949.1 445.9,1951.3 446.7,1953.4 447.6,1955.2 448.5,1956.4 449.3,1959.5 450.1,1961.3 450.9,1963.0 451.7,1966.4 452.2,1967.4 452.6,1969.6 453.1,1972.9 453.5,1975.4 454.0,1976.8 454.4,1978.7 454.8,1981.6 455.2,1983.1 455.7,1984.7 456.1,1986.2 456.5,1990.0 456.8,1990.7 457.2,1992.5 457.6,1995.7 458.0,1998.1 458.3,1999.5 458.7,2002.8 459.1,2004.5 459.5,2007.0 459.9,2009.4 460.2,2011.1 460.6,2013.7 460.9,2016.9 461.3,2017.3 461.6,2019.9 461.9,2021.9 462.2,2023.2 462.4,2025.1 462.7,2025.8 463.3,2030.2 463.7,2033.7 464.1,2036.8 464.5,2038.4 465.0,2038.0 465.4,2037.1 465.8,2037.2 466.2,2034.8 466.6,2031.0 467.1,2029.0 467.6,2025.8 468.3,2023.0 468.7,2020.7 469.1,2019.6 469.5,2017.6 470.0,2015.7 470.5,2014.3 471.0,2011.7 471.5,2008.8 472.0,2006.3 472.6,2004.7 473.2,2003.4 473.8,2001.2 474.4,1998.4 475.0,1997.3 475.7,1994.8 476.4,1992.2 477.2,1990.7 477.9,1988.4 478.7,1985.8 479.5,1984.1 480.3,1982.5 481.2,1981.1 482.1,1978.1 483.0,1976.9 484.0,1975.0 485.0,1973.3 486.2,1970.9 487.4,1970.4 488.7,1968.7 490.0,1967.2 491.4,1965.1 492.8,1964.0 494.2,1962.1 495.7,1960.9 497.1,1958.9 498.6,1958.0 500.0,1956.5 501.7,1954.8 503.4,1954.0 505.1,1952.6 506.8,1951.6 508.5,1951.1 510.3,1950.2 512.3,1950.8 514.4,1949.9 516.7,1948.8 518.4,1948.2 520.1,1946.9 521.8,1947.1 523.6,1945.9 525.4,1945.9 527.4,1945.6 529.3,1945.4 531.4,1945.7 533.6,1944.6 535.8,1945.9 538.2,1944.2 540.7,1944.7 543.3,1943.2 545.0,1944.3 546.8,1943.1 548.6,1943.7 550.4,1943.5 552.3,1943.8 554.3,1943.6 556.3,1943.4 558.3,1943.1 560.4,1944.1 562.5,1942.8 564.6,1942.9 566.8,1942.6 568.9,1942.9 571.1,1942.3 573.3,1942.5 575.5,1942.9 577.8,1942.3 580.0,1942.7 582.2,1942.1 584.5,1943.1 586.7,1942.2 588.6,1943.1 590.5,1942.4 592.4,1942.0 594.3,1942.5 596.3,1942.5 598.3,1942.7 600.3,1942.5 602.3,1942.2 604.3,1941.1 606.3,1942.1 608.3,1941.5 610.4,1941.7 612.4,1942.1 614.5,1941.0 616.5,1942.0 618.6,1942.5 620.6,1941.5 622.6,1941.0 624.7,1941.8 626.7,1941.1 628.7,1941.5 630.7,1941.5 632.7,1940.1 634.7,1940.9 636.7,1939.9 638.8,1940.3 640.9,1940.9 643.1,1939.9 645.4,1940.1 647.7,1940.1 650.0,1940.4 652.4,1940.4 654.7,1940.4 657.1,1939.8 659.4,1939.6 661.7,1940.2 664.0,1939.4 666.2,1939.4 668.4,1940.1 670.5,1939.3 672.5,1939.2 674.5,1940.2 676.4,1939.5 678.1,1938.4 679.8,1939.1 681.3,1940.4 682.7,1940.8 683.9,1939.2 685.0,1939.6" fill="none" stroke="#0505f5" stroke-width="4.0" stroke-linejoin="round" stroke-linecap="round" />
<line x1="507.3" y1="1867.3" x2="482.6" y2="1833.2" stroke="#000" stroke-width="2.5"/>
<polygon points="475.0,1822.7 490.3,1830.2 477.3,1839.5" fill="#000"/>
<line x1="507.3" y1="2098.3" x2="482.7" y2="2064.5" stroke="#000" stroke-width="2.5"/>
<polygon points="475.0,2054.0 490.3,2061.4 477.4,2070.8" fill="#000"/>
<rect x="696" y="1526" width="8" height="114.7" fill="#808080"/>
<rect x="696" y="1959.3" width="8" height="94" fill="#808080"/>
<rect x="603.3" y="2100" width="101" height="7.7" fill="#808080"/>
<text transform="translate(337.13 1556.70) scale(1.3479 1)" font-size="50.65" font-weight="bold" font-style="normal" fill="#000" stroke="#000" stroke-width="1">f</text>
<text transform="translate(300.38 1635.02) rotate(-90) scale(0.9273 1)" font-size="27.09" font-weight="normal" font-style="italic" fill="#767676" >response</text>
<text transform="translate(300.73 1958.77) rotate(-90) scale(0.9544 1)" font-size="27.91" font-weight="normal" font-style="italic" fill="#767676" >stimulus</text>
<text transform="translate(373.59 1704.53) rotate(-90) scale(0.9876 1)" font-size="41.80" font-weight="normal" font-style="normal" fill="#000" >ΔF/F</text>
<text transform="translate(368.33 2100.93) rotate(-90) scale(0.9709 1)" font-size="32.20" font-weight="normal" font-style="normal" fill="#000" >ΔT (°C)</text>
<g transform="translate(348.89 1920.00) scale(0.9196 1)" font-size="23.92">
<text x="0" y="0">25</text>
<text x="32.5837" y="-5.4269" font-size="20.33">o</text>
<text x="43.8901" y="0">C</text>
</g>
<rect x="969.5" y="1509.4" width="399.8" height="610" fill="none" stroke="#d5d5d5" stroke-width="4"/>
<rect x="1079.6" y="1511.3" width="36.2" height="606" fill="#b2b2fc"/>
<rect x="1133.5" y="1511.3" width="3" height="606" fill="#a9a9fb"/>
<polyline points="985.9,1830.2 987.2,1831.3 989.2,1832.3 991.4,1837.5 993.4,1838.7 995.0,1839.1 995.8,1837.7 996.2,1837.2 996.4,1833.3 996.7,1830.5 997.1,1825.5 998.0,1822.9 999.7,1820.0 1001.8,1818.8 1004.2,1813.9 1006.5,1818.3 1008.7,1816.1 1010.6,1816.8 1012.4,1819.4 1014.1,1820.0 1015.9,1823.2 1017.8,1826.0 1019.5,1825.1 1021.4,1831.9 1023.2,1832.5 1025.1,1835.3 1026.9,1834.5 1028.5,1834.9 1029.5,1836.7 1030.5,1831.7 1031.4,1829.0 1032.3,1826.9 1033.1,1824.8 1033.9,1816.7 1034.7,1819.0 1035.4,1815.6 1036.1,1815.5 1037.0,1813.8 1037.6,1818.3 1038.2,1823.7 1038.8,1825.5 1039.6,1828.2 1040.7,1830.5 1042.9,1830.4 1045.5,1830.4 1048.4,1827.6 1051.3,1825.9 1053.7,1828.5 1056.2,1827.8 1058.8,1829.4 1061.2,1836.3 1063.5,1833.3 1067.0,1836.5 1070.1,1833.5 1072.6,1830.7 1073.3,1829.8 1073.9,1825.7 1074.3,1823.0 1074.6,1820.8 1074.9,1817.6 1075.2,1816.1 1075.7,1815.1 1076.3,1808.0 1077.0,1805.1 1077.7,1803.9 1078.4,1800.8 1079.3,1799.6 1080.2,1796.5 1081.3,1799.4 1082.6,1801.7 1083.9,1803.6 1085.3,1810.1 1086.6,1810.1 1087.8,1813.3 1088.5,1810.9 1089.1,1809.0 1089.8,1809.1 1090.4,1804.9 1091.0,1799.7 1091.6,1796.1 1092.2,1791.2 1092.8,1791.0 1093.4,1788.3 1093.9,1785.6 1094.5,1785.2 1095.0,1789.3 1095.5,1791.9 1096.1,1796.8 1096.5,1798.1 1097.0,1801.9 1097.5,1806.7 1098.0,1808.6 1098.5,1810.8 1099.2,1810.6 1099.9,1805.6 1100.7,1800.4 1101.4,1799.8 1102.2,1795.5 1103.0,1794.6 1106.0,1788.5 1109.1,1794.2 1109.9,1796.3 1110.6,1798.1 1111.4,1802.7 1112.1,1805.5 1112.9,1809.1 1113.7,1813.5 1114.4,1815.9 1115.2,1817.3 1117.2,1816.5 1119.2,1813.4 1121.3,1810.4 1122.5,1807.8 1123.8,1803.6 1125.2,1801.9 1126.5,1799.7 1127.8,1796.0 1128.9,1794.5 1129.8,1798.3 1130.5,1800.2 1131.1,1803.8 1131.7,1809.6 1132.5,1810.7 1133.5,1813.1 1134.0,1811.1 1134.5,1810.6 1135.1,1810.3 1135.7,1808.3 1136.4,1804.5 1137.0,1799.3 1137.7,1798.9 1138.4,1795.2 1139.1,1794.9 1139.7,1792.7 1140.4,1788.6 1141.0,1785.5 1141.6,1782.4 1142.1,1779.7 1142.6,1775.7 1143.0,1774.9 1143.4,1771.0 1143.7,1767.5 1144.0,1766.5 1144.3,1766.0 1144.6,1761.2 1144.9,1756.6 1145.2,1757.9 1145.4,1754.0 1145.6,1751.9 1145.9,1748.0 1146.1,1746.6 1146.3,1745.5 1146.5,1740.1 1146.8,1739.3 1147.0,1736.4 1147.2,1732.4 1147.4,1731.1 1147.6,1729.0 1147.8,1724.5 1148.0,1724.6 1148.1,1719.1 1148.3,1719.5 1148.4,1716.4 1148.6,1713.4 1148.7,1709.5 1148.9,1706.9 1149.1,1702.4 1149.3,1702.5 1149.6,1699.6 1149.9,1697.6 1150.2,1695.2 1150.5,1691.9 1150.8,1688.9 1151.1,1688.2 1151.4,1684.5 1151.7,1682.0 1152.1,1678.1 1152.5,1678.4 1152.8,1673.6 1153.2,1674.4 1153.6,1668.2 1154.0,1666.1 1154.4,1664.2 1154.8,1660.5 1155.3,1656.8 1155.7,1654.5 1156.1,1652.2 1156.5,1650.2 1157.0,1649.0 1157.4,1645.9 1157.8,1642.6 1158.2,1640.9 1158.5,1634.6 1158.9,1634.0 1159.3,1631.4 1159.7,1628.0 1160.1,1627.1 1160.5,1622.8 1160.9,1619.3 1161.3,1619.0 1161.7,1614.1 1162.1,1611.7 1162.5,1607.3 1162.9,1607.6 1163.3,1603.7 1163.7,1602.8 1164.1,1601.2 1164.5,1596.8 1164.9,1593.1 1165.3,1590.4 1165.6,1591.4 1166.0,1587.1 1166.3,1586.5 1166.7,1584.5 1167.0,1578.5 1170.3,1581.4 1173.0,1584.6 1173.6,1582.9 1174.0,1579.8 1174.4,1577.1 1174.8,1572.1 1175.2,1570.7 1175.6,1566.2 1176.1,1564.7 1176.7,1565.1 1178.2,1563.4 1180.0,1564.3 1181.9,1569.3 1183.7,1568.9 1186.7,1569.9 1189.8,1570.9 1191.3,1570.0 1192.9,1574.8 1194.5,1577.6 1196.0,1581.5 1197.4,1581.8 1197.9,1580.4 1198.4,1578.1 1198.8,1573.8 1199.2,1572.4 1199.6,1570.0 1200.0,1568.4 1200.4,1561.6 1200.7,1562.3 1201.1,1556.8 1201.5,1552.8 1202.0,1554.3 1202.7,1549.5 1203.4,1544.1 1204.1,1541.9 1204.8,1538.7 1205.6,1533.1 1206.3,1534.2 1207.2,1530.1 1208.0,1532.2 1208.5,1531.2 1209.1,1531.3 1209.7,1534.6 1210.3,1537.2 1211.0,1540.8 1211.6,1541.6 1212.3,1545.6 1212.9,1550.5 1213.5,1552.8 1214.1,1555.6 1214.7,1559.5 1215.2,1559.5 1215.7,1565.6 1217.4,1565.0 1218.8,1566.6 1220.2,1570.5 1220.5,1573.8 1220.7,1574.2 1221.0,1576.4 1221.2,1580.6 1221.5,1584.3 1221.8,1586.8 1222.0,1593.0 1222.3,1595.0 1222.6,1599.3 1222.8,1602.7 1223.1,1605.7 1223.3,1607.3 1223.6,1612.4 1223.8,1612.4 1224.1,1615.1 1224.3,1618.2 1224.6,1618.6 1224.8,1616.5 1225.0,1617.1 1225.2,1615.2 1225.5,1616.1 1225.7,1611.8 1225.9,1609.5 1226.1,1605.5 1226.3,1602.2 1226.4,1600.1 1226.6,1594.2 1226.8,1591.8 1227.0,1587.4 1227.2,1584.1 1227.4,1579.7 1227.6,1579.9 1227.8,1573.9 1228.0,1572.5 1228.2,1572.2 1228.4,1572.3 1228.7,1571.5 1228.9,1571.6 1229.2,1574.9 1229.4,1576.7 1229.7,1580.1 1229.9,1586.4 1230.2,1585.4 1230.5,1591.7 1230.7,1596.0 1231.0,1598.7 1231.3,1602.2 1231.6,1607.1 1231.8,1608.1 1232.1,1608.2 1232.4,1611.2 1233.3,1612.5 1234.1,1608.4 1235.0,1603.7 1236.0,1600.8 1237.0,1599.0 1237.6,1600.9 1238.2,1603.5 1238.8,1604.6 1239.5,1606.5 1240.1,1613.5 1240.8,1615.6 1241.5,1617.1 1242.3,1618.8 1243.0,1622.4 1245.5,1624.2 1248.2,1623.7 1250.7,1624.3 1251.7,1625.4 1252.6,1628.5 1253.4,1630.8 1254.3,1635.3 1255.1,1638.5 1255.9,1642.1 1256.7,1639.1 1257.1,1641.9 1257.6,1638.6 1258.0,1634.1 1258.4,1630.7 1258.8,1628.1 1259.2,1624.5 1259.6,1621.0 1260.0,1614.3 1260.4,1612.8 1260.9,1611.1 1261.3,1609.5 1261.7,1607.8 1262.2,1607.1 1262.5,1608.2 1262.9,1608.4 1263.2,1612.9 1263.6,1614.0 1263.9,1615.8 1264.3,1617.4 1264.7,1621.1 1265.0,1624.8 1265.4,1627.8 1265.8,1633.1 1266.2,1637.1 1266.5,1639.1 1266.9,1639.6 1267.3,1644.9 1267.6,1646.2 1267.9,1649.3 1268.3,1653.9 1268.6,1651.0 1268.9,1652.6 1269.9,1654.2 1270.7,1652.6 1271.4,1646.3 1272.3,1640.4 1273.5,1642.7 1274.1,1644.2 1274.8,1646.7 1275.6,1647.7 1276.4,1651.8 1277.2,1652.8 1278.0,1657.9 1278.9,1661.6 1279.7,1663.0 1280.5,1665.9 1281.3,1670.5 1282.0,1670.2 1282.6,1671.5 1285.0,1671.0 1287.2,1670.3 1287.7,1672.2 1288.2,1672.3 1288.8,1675.8 1289.4,1676.6 1290.0,1679.1 1290.6,1686.5 1291.2,1685.6 1291.8,1687.7 1292.5,1693.0 1293.1,1694.7 1293.7,1699.2 1294.3,1697.7 1294.8,1701.6 1295.7,1708.2 1296.6,1711.5 1297.4,1714.1 1298.2,1720.5 1299.0,1722.4 1299.9,1721.7 1300.9,1722.7 1301.3,1721.1 1301.8,1717.3 1302.3,1715.9 1302.7,1714.7 1303.3,1710.6 1303.8,1707.0 1304.3,1705.2 1304.8,1703.5 1305.4,1699.5 1305.9,1694.8 1306.4,1689.8 1307.0,1690.6 1307.5,1686.4 1308.0,1685.1 1308.5,1681.6 1309.0,1679.1 1309.5,1678.4 1310.0,1676.2 1311.2,1675.5 1312.4,1675.9 1313.5,1676.5 1314.6,1683.6 1315.7,1687.4 1316.7,1689.3 1317.6,1693.3 1318.1,1698.8 1318.5,1699.2 1318.9,1700.8 1319.3,1702.8 1319.7,1709.6 1320.0,1712.3 1320.4,1712.9 1320.7,1717.8 1321.0,1718.6 1321.3,1721.9 1321.6,1725.8 1321.9,1725.8 1322.2,1726.5 1323.0,1725.2 1323.7,1723.4 1324.4,1717.7 1325.2,1715.1 1325.6,1720.3 1326.1,1718.9 1326.6,1721.6 1327.1,1725.7 1327.7,1728.0 1328.2,1731.6 1328.8,1735.1 1329.3,1736.7 1329.8,1738.4 1330.9,1743.2 1332.0,1748.2 1333.2,1749.3 1334.3,1752.1 1335.5,1748.5 1336.6,1743.5 1337.8,1741.3 1338.9,1739.3 1339.7,1740.2 1340.5,1743.2 1341.2,1748.0 1342.0,1751.4 1342.9,1753.7 1344.2,1756.7 1345.7,1760.2 1347.1,1762.9 1348.0,1764.4" fill="none" stroke="#3b8a5c" stroke-width="4.4" stroke-linejoin="round" stroke-linecap="round" />
<polyline points="985.9,1833.5 987.5,1832.7 989.6,1830.7 992.1,1833.9 994.9,1828.2 997.7,1829.8 1000.6,1830.4 1003.3,1829.4 1005.7,1828.9 1008.4,1826.1 1010.8,1829.9 1013.0,1825.9 1015.3,1826.6 1017.9,1826.6 1020.9,1826.5 1023.2,1825.8 1025.8,1829.0 1028.5,1827.2 1031.4,1828.8 1034.3,1825.5 1037.2,1828.8 1040.0,1827.8 1042.7,1828.8 1045.2,1828.3 1048.2,1828.2 1051.0,1826.6 1053.8,1825.9 1056.4,1824.9 1058.9,1824.0 1061.3,1822.8 1063.5,1821.5 1067.1,1822.2 1070.4,1820.5 1073.2,1824.6 1075.7,1821.7 1077.1,1821.3 1078.2,1817.4 1079.1,1813.8 1079.9,1811.1 1080.8,1809.2 1081.7,1805.6 1082.1,1804.1 1082.6,1802.2 1083.0,1801.6 1083.4,1795.3 1083.9,1798.8 1084.3,1793.6 1084.7,1791.8 1085.2,1786.4 1085.6,1786.6 1086.1,1781.3 1086.5,1781.0 1086.9,1777.4 1087.4,1773.9 1087.8,1769.8 1088.0,1767.6 1088.3,1765.3 1088.5,1764.7 1088.7,1761.1 1089.0,1758.8 1089.2,1759.3 1089.4,1753.3 1089.7,1749.1 1089.9,1744.4 1090.1,1741.3 1090.4,1742.1 1090.6,1740.3 1090.8,1734.6 1091.1,1731.6 1091.3,1730.1 1091.6,1727.7 1091.8,1726.0 1092.0,1721.8 1092.3,1718.3 1092.5,1717.6 1092.7,1712.7 1093.0,1709.5 1093.2,1707.7 1093.4,1706.6 1093.7,1704.3 1093.9,1703.0 1094.4,1699.3 1094.9,1699.3 1095.5,1693.7 1096.0,1687.5 1096.5,1686.3 1097.0,1686.5 1097.6,1683.1 1098.1,1685.4 1098.6,1679.6 1099.1,1677.4 1099.5,1675.6 1100.0,1672.2 1100.3,1671.1 1100.6,1667.5 1100.9,1665.7 1101.2,1661.6 1101.5,1655.9 1101.7,1657.3 1102.0,1656.2 1102.3,1649.5 1102.5,1647.1 1102.8,1646.3 1103.0,1641.6 1103.3,1639.9 1103.6,1637.0 1103.8,1636.0 1104.1,1632.9 1104.3,1634.3 1104.6,1630.1 1109.1,1629.6 1109.9,1626.2 1110.7,1625.9 1111.6,1621.4 1112.5,1620.6 1113.4,1617.6 1114.3,1618.3 1115.2,1612.2 1117.3,1613.6 1119.4,1617.7 1121.3,1618.0 1121.9,1623.9 1122.5,1628.3 1123.0,1628.9 1123.5,1632.0 1124.0,1637.1 1124.5,1638.9 1125.0,1641.7 1125.5,1644.8 1125.9,1644.1 1128.9,1645.0 1129.1,1643.1 1129.4,1645.4 1129.6,1646.8 1129.9,1646.0 1130.2,1650.0 1130.5,1654.5 1130.8,1657.9 1131.1,1662.6 1131.4,1667.9 1131.8,1668.3 1132.1,1670.3 1132.4,1672.7 1132.7,1678.8 1133.1,1678.9 1133.4,1682.6 1133.7,1687.4 1134.1,1687.7 1134.4,1690.0 1134.7,1692.4 1135.0,1691.6 1136.5,1698.7 1138.0,1700.4 1139.5,1701.2 1141.1,1702.5 1141.8,1701.7 1142.5,1705.7 1143.1,1710.1 1143.8,1710.3 1144.5,1712.6 1145.3,1717.3 1146.0,1720.0 1146.9,1722.1 1147.7,1725.5 1148.7,1728.6 1149.5,1730.3 1150.4,1732.4 1151.3,1736.9 1152.3,1735.2 1153.3,1742.5 1154.4,1742.2 1155.4,1743.3 1156.4,1747.9 1157.4,1750.8 1158.4,1749.9 1159.3,1754.1 1160.1,1757.1 1160.9,1759.0 1162.1,1761.1 1163.0,1762.3 1163.8,1766.2 1164.5,1771.7 1165.2,1769.3 1166.0,1777.0 1167.0,1774.6 1168.6,1777.1 1170.4,1778.8 1172.3,1781.9 1174.2,1783.9 1176.1,1783.8 1178.4,1789.7 1180.6,1789.6 1182.9,1789.4 1185.2,1788.0 1187.4,1790.4 1189.6,1791.7 1191.8,1794.2 1194.3,1794.2 1196.5,1793.9 1199.0,1796.5 1201.5,1797.8 1204.0,1799.4 1206.5,1801.7 1209.0,1800.2 1211.5,1799.5 1214.0,1803.9 1216.5,1804.2 1218.7,1801.8 1221.1,1805.9 1223.3,1805.7 1225.4,1809.1 1227.8,1810.4 1230.1,1808.6 1232.6,1810.0 1235.2,1812.2 1237.7,1811.2 1240.0,1812.4 1242.3,1814.2 1244.3,1816.5 1246.4,1817.9 1249.0,1817.9 1251.1,1819.1 1253.5,1821.4 1256.1,1820.7 1258.7,1820.6 1261.4,1819.1 1264.0,1819.5 1266.6,1819.2 1269.2,1820.4 1271.8,1819.7 1274.4,1822.7 1277.0,1822.8 1279.6,1822.5 1282.1,1822.5 1284.6,1821.0 1287.0,1823.3 1289.5,1822.4 1292.1,1822.6 1294.8,1820.9 1297.3,1819.8 1300.0,1820.9 1302.9,1817.4 1305.7,1816.9 1308.4,1820.1 1310.9,1819.4 1313.0,1819.4 1315.9,1822.5 1318.1,1823.0 1320.0,1825.7 1322.0,1827.1 1324.7,1823.5 1327.3,1822.8 1329.8,1821.3 1332.2,1820.9 1334.5,1821.5 1337.0,1822.4 1340.3,1820.2 1344.0,1821.4 1346.5,1824.0" fill="none" stroke="#d600ff" stroke-width="4.4" stroke-linejoin="round" stroke-linecap="round" />
<polyline points="985.9,1930.9 987.1,1931.2 988.4,1931.6 990.0,1931.0 991.8,1930.7 993.8,1930.4 995.9,1931.4 998.0,1930.9 1000.3,1930.6 1002.7,1930.4 1005.1,1929.6 1007.5,1930.8 1009.9,1930.2 1012.2,1930.6 1014.5,1931.3 1016.8,1930.4 1018.9,1930.5 1020.9,1931.0 1023.1,1930.4 1025.2,1930.6 1027.2,1930.1 1029.3,1930.2 1031.3,1930.0 1033.2,1931.4 1035.2,1931.6 1037.2,1930.8 1039.1,1931.1 1041.1,1931.0 1043.1,1932.7 1045.1,1931.9 1047.1,1931.4 1049.2,1931.8 1051.3,1932.2 1053.4,1931.0 1055.5,1931.8 1057.8,1931.7 1060.1,1931.3 1062.5,1931.6 1064.8,1931.7 1067.2,1931.0 1069.6,1930.7 1071.9,1931.2 1074.1,1930.8 1076.3,1930.8 1078.3,1931.5 1080.2,1930.7 1081.9,1930.5 1083.5,1929.9 1084.8,1930.8 1088.9,1931.3 1089.9,1932.5 1090.9,1934.9 1091.7,1936.4 1092.4,1937.8 1093.2,1939.6 1094.0,1941.8 1094.7,1943.4 1095.5,1945.6 1096.2,1948.1 1097.0,1951.4 1097.4,1952.0 1097.9,1954.3 1098.3,1956.0 1098.7,1957.9 1099.1,1958.9 1099.6,1961.2 1100.0,1963.0 1100.4,1964.7 1100.9,1967.0 1101.3,1968.9 1101.7,1970.7 1102.1,1973.4 1102.6,1975.6 1103.0,1979.7 1103.3,1980.2 1103.5,1981.8 1103.8,1983.2 1104.0,1985.7 1104.3,1987.9 1104.6,1989.7 1104.9,1991.1 1105.1,1993.3 1105.4,1995.4 1105.7,1998.2 1106.0,1999.9 1106.2,2002.5 1106.5,2005.6 1106.8,2006.0 1107.0,2009.0 1107.3,2011.3 1107.5,2012.7 1107.8,2016.1 1108.0,2017.6 1108.3,2020.0 1108.5,2022.1 1108.7,2024.4 1108.9,2025.3 1109.1,2027.1 1109.3,2029.2 1109.6,2031.5 1109.8,2035.4 1110.0,2036.6 1110.2,2038.3 1110.4,2041.7 1110.6,2044.5 1110.8,2045.3 1110.9,2047.9 1111.1,2049.3 1111.2,2051.1 1111.4,2053.9 1111.5,2055.3 1111.7,2057.1 1111.8,2059.4 1111.9,2061.2 1112.1,2062.4 1112.2,2064.6 1112.5,2067.3 1112.8,2070.5 1113.0,2073.5 1113.1,2075.9 1113.4,2076.8 1113.7,2076.6 1114.1,2075.7 1114.5,2073.8 1115.0,2073.2 1115.5,2070.0 1116.1,2068.3 1116.7,2064.0 1117.0,2061.3 1117.3,2061.1 1117.6,2058.7 1117.9,2056.2 1118.3,2054.4 1118.6,2052.1 1119.0,2050.0 1119.3,2046.6 1119.7,2045.2 1120.1,2043.2 1120.5,2040.1 1120.9,2039.2 1121.3,2036.4 1121.8,2033.3 1122.2,2033.0 1122.7,2029.8 1123.2,2027.9 1123.7,2025.6 1124.3,2024.6 1124.8,2021.6 1125.3,2019.2 1125.8,2017.3 1126.4,2016.0 1126.9,2014.2 1127.4,2011.9 1128.1,2010.4 1128.9,2007.4 1129.6,2005.9 1130.3,2004.3 1131.0,2002.5 1131.8,2000.8 1132.6,1999.0 1133.5,1996.8 1134.5,1995.3 1135.5,1993.5 1136.6,1990.9 1137.7,1988.9 1138.8,1987.9 1140.0,1985.8 1141.3,1983.9 1142.6,1982.1 1143.6,1980.3 1144.5,1978.1 1145.5,1976.8 1146.6,1974.3 1147.6,1973.6 1148.7,1971.3 1149.8,1968.9 1151.0,1966.8 1152.2,1965.5 1153.5,1963.5 1154.8,1961.6 1156.2,1960.8 1157.7,1959.2 1159.2,1958.2 1160.7,1956.3 1162.3,1956.1 1164.0,1954.8 1165.7,1951.9 1167.4,1950.6 1169.2,1950.0 1171.1,1950.1 1173.0,1948.7 1174.7,1947.5 1176.4,1946.7 1178.1,1945.2 1179.9,1945.1 1181.7,1943.7 1183.5,1943.6 1185.4,1942.6 1187.3,1941.8 1189.2,1941.1 1191.2,1941.1 1193.3,1941.1 1195.3,1938.8 1197.4,1939.5 1199.2,1938.5 1201.1,1939.1 1203.0,1938.6 1204.9,1937.3 1206.9,1937.5 1208.8,1937.9 1210.8,1937.8 1212.9,1936.5 1214.9,1936.1 1217.0,1936.6 1219.1,1936.9 1221.2,1936.6 1223.4,1936.1 1225.6,1936.0 1227.8,1935.8 1229.7,1935.4 1231.6,1934.7 1233.6,1935.4 1235.6,1935.1 1237.7,1935.1 1239.7,1934.5 1241.8,1934.1 1243.9,1934.6 1246.0,1934.5 1248.2,1934.8 1250.3,1933.1 1252.4,1933.5 1254.4,1933.4 1256.5,1934.5 1258.5,1932.2 1260.5,1933.7 1262.4,1932.7 1264.3,1932.5 1266.5,1933.4 1268.5,1933.2 1270.4,1931.2 1272.3,1932.1 1274.1,1932.7 1275.8,1932.4 1277.6,1933.1 1279.4,1932.1 1281.3,1932.4 1283.2,1931.4 1285.2,1932.8 1287.3,1932.5 1289.6,1932.8 1292.1,1932.1 1294.8,1933.3 1296.5,1932.1 1298.3,1933.3 1300.2,1933.3 1302.3,1931.9 1304.4,1932.5 1306.6,1932.0 1308.9,1931.5 1311.2,1932.6 1313.6,1932.4 1316.0,1933.0 1318.5,1933.2 1320.9,1931.5 1323.3,1932.2 1325.7,1932.6 1328.1,1932.8 1330.4,1932.5 1332.6,1932.0 1334.8,1932.3 1336.9,1932.7 1338.9,1931.7 1340.8,1931.7 1342.5,1931.7 1344.1,1932.1 1345.6,1933.0 1346.9,1932.2 1348.0,1932.7" fill="none" stroke="#0505f5" stroke-width="4.2" stroke-linejoin="round" stroke-linecap="round" />
<polygon points="1150.2,1811.9 1203.5,1855.4 1174.6,1876.7" fill="#000"/>
<rect x="1327.7" y="1525.9" width="7.6" height="114.8" fill="#808080"/>
<rect x="1327.7" y="1958.9" width="7.6" height="94.4" fill="#808080"/>
<rect x="1234.8" y="2099.8" width="101" height="7.6" fill="#808080"/>
<text transform="translate(989.29 1556.30) scale(1.2178 1)" font-size="49.54" font-weight="bold" font-style="normal" fill="#000" stroke="#000" stroke-width="1">h</text>
<text transform="translate(1030.19 1704.21) rotate(-90) scale(0.9622 1)" font-size="42.21" font-weight="normal" font-style="normal" fill="#000" >ΔF/F</text>
<text transform="translate(1024.72 2101.33) rotate(-90) scale(0.9569 1)" font-size="32.74" font-weight="normal" font-style="normal" fill="#000" >ΔT (°C)</text>
<g transform="translate(1006.10 1913.30) scale(0.9445 1)" font-size="23.20">
<text x="0" y="0">25</text>
<text x="31.6081" y="-5.2644" font-size="19.72">o</text>
<text x="42.5760" y="0">C</text>
</g>
<text transform="translate(1358.52 1613.02) rotate(-90) scale(0.9270 1)" font-size="18.66" font-weight="normal" font-style="normal" fill="#000" >1 ΔF/ F</text>
<g transform="translate(1359.30 2027.51) rotate(-90) scale(0.8511 1)" font-size="21.91">
<text x="0" y="0">3</text>
<text x="17.6656" y="-4.9720" font-size="18.63">o</text>
<text x="28.0241" y="0">C</text>
</g>
<text transform="translate(1246.26 2093.09) scale(1.0685 1)" font-size="31.39" font-weight="normal" font-style="normal" fill="#000" >5</text>
<text transform="translate(1270.93 2093.31) scale(0.9949 1)" font-size="29.39" font-weight="normal" font-style="italic" fill="#000" >sec</text>
<defs><linearGradient id="dbg" x1="0" y1="0" x2="0" y2="1"><stop offset="0" stop-color="#f7f7f8"/><stop offset="0.25" stop-color="#ececf0"/><stop offset="0.7" stop-color="#dfdfe7"/><stop offset="1" stop-color="#d2d2de"/></linearGradient><clipPath id="dclip"><rect x="20.3" y="1523" width="234" height="344.4"/></clipPath><filter id="blur1" x="-20%" y="-20%" width="140%" height="140%"><feGaussianBlur stdDeviation="1.0"/></filter><filter id="blur2" x="-30%" y="-30%" width="160%" height="160%"><feGaussianBlur stdDeviation="2.5"/></filter></defs>
<g clip-path="url(#dclip)">
<rect x="20.3" y="1523" width="234" height="344.4" fill="url(#dbg)"/>
<path d="M20,1612 C25,1590 35,1572 55,1558 C80,1543 110,1535 140,1530 C150,1524 165,1524 178,1531 C200,1538 225,1545 256,1552 L256,1870 L20,1870 Z" fill="#e2e2e6" fill-opacity="0.55" stroke="#bdbdc2" stroke-width="1.4" filter="url(#blur1)"/>
<path d="M40,1600 C60,1575 95,1560 130,1556 C170,1552 210,1560 245,1575" fill="none" stroke="#c4c4c8" stroke-width="1.3" filter="url(#blur1)"/>
<ellipse cx="68" cy="1705" rx="46" ry="50" transform="rotate(0 68 1705)" fill="#f2f2f5" fill-opacity="0.35" stroke="#a8a8ae" stroke-opacity="0.4" stroke-width="1.2" filter="url(#blur1)"/>
<ellipse cx="62" cy="1650" rx="40" ry="38" transform="rotate(0 62 1650)" fill="#f2f2f5" fill-opacity="0.25" stroke="#a8a8ae" stroke-opacity="0.4" stroke-width="1.2" filter="url(#blur1)"/>
<ellipse cx="95" cy="1790" rx="62" ry="40" transform="rotate(-10 95 1790)" fill="#f2f2f5" fill-opacity="0.25" stroke="#a8a8ae" stroke-opacity="0.4" stroke-width="1.2" filter="url(#blur1)"/>
<ellipse cx="215" cy="1640" rx="40" ry="40" transform="rotate(0 215 1640)" fill="#f2f2f5" fill-opacity="0.2" stroke="#a8a8ae" stroke-opacity="0.4" stroke-width="1.2" filter="url(#blur1)"/>
<ellipse cx="230" cy="1700" rx="30" ry="45" transform="rotate(0 230 1700)" fill="#f2f2f5" fill-opacity="0.18" stroke="#a8a8ae" stroke-opacity="0.4" stroke-width="1.2" filter="url(#blur1)"/>
<ellipse cx="125" cy="1655" rx="30" ry="28" transform="rotate(0 125 1655)" fill="#f2f2f5" fill-opacity="0.15" stroke="#a8a8ae" stroke-opacity="0.4" stroke-width="1.2" filter="url(#blur1)"/>
<ellipse cx="200" cy="1830" rx="60" ry="40" transform="rotate(0 200 1830)" fill="#f2f2f5" fill-opacity="0.2" stroke="#a8a8ae" stroke-opacity="0.4" stroke-width="1.2" filter="url(#blur1)"/>
<path d="M191.5,1745.8 q8.9,13.3 9.6,16.9" fill="none" stroke="#8e8e96" stroke-opacity="0.21" stroke-width="1.1" filter="url(#blur1)"/>
<path d="M167.2,1788.1 q4.5,12.0 -15.5,-1.2" fill="none" stroke="#8e8e96" stroke-opacity="0.25" stroke-width="1.1" filter="url(#blur1)"/>
<path d="M179.3,1710.5 q-14.6,-8.5 -8.8,16.7" fill="none" stroke="#8e8e96" stroke-opacity="0.35" stroke-width="1.1" filter="url(#blur1)"/>
<path d="M119.7,1757.4 q-10.8,3.5 -14.9,-19.9" fill="none" stroke="#8e8e96" stroke-opacity="0.37" stroke-width="1.1" filter="url(#blur1)"/>
<path d="M127.5,1635.3 q14.5,11.2 -8.4,18.5" fill="none" stroke="#8e8e96" stroke-opacity="0.31" stroke-width="1.1" filter="url(#blur1)"/>
<path d="M200.1,1633.0 q13.2,5.7 18.7,15.7" fill="none" stroke="#8e8e96" stroke-opacity="0.26" stroke-width="1.1" filter="url(#blur1)"/>
<path d="M151.0,1624.9 q-10.6,-13.0 -7.9,4.1" fill="none" stroke="#8e8e96" stroke-opacity="0.20" stroke-width="1.1" filter="url(#blur1)"/>
<path d="M200.1,1661.0 q-5.7,9.6 -0.8,-7.4" fill="none" stroke="#8e8e96" stroke-opacity="0.30" stroke-width="1.1" filter="url(#blur1)"/>
<path d="M204.2,1602.0 q14.3,-14.3 10.0,13.8" fill="none" stroke="#8e8e96" stroke-opacity="0.20" stroke-width="1.1" filter="url(#blur1)"/>
<path d="M217.1,1666.9 q2.4,-14.7 -18.1,-12.8" fill="none" stroke="#8e8e96" stroke-opacity="0.39" stroke-width="1.1" filter="url(#blur1)"/>
<path d="M125.5,1748.7 q12.9,13.3 -6.2,-5.8" fill="none" stroke="#8e8e96" stroke-opacity="0.30" stroke-width="1.1" filter="url(#blur1)"/>
<path d="M215.2,1612.7 q7.5,8.9 14.4,-18.5" fill="none" stroke="#8e8e96" stroke-opacity="0.39" stroke-width="1.1" filter="url(#blur1)"/>
<path d="M109.1,1661.6 q3.3,12.5 -6.4,17.0" fill="none" stroke="#8e8e96" stroke-opacity="0.31" stroke-width="1.1" filter="url(#blur1)"/>
<path d="M143.4,1656.5 q-9.7,-12.7 -14.0,7.6" fill="none" stroke="#8e8e96" stroke-opacity="0.40" stroke-width="1.1" filter="url(#blur1)"/>
<path d="M120.0,1600.2 q14.6,1.0 -3.8,-10.5" fill="none" stroke="#8e8e96" stroke-opacity="0.32" stroke-width="1.1" filter="url(#blur1)"/>
<path d="M223.1,1685.7 q-2.3,-13.3 16.6,-18.7" fill="none" stroke="#8e8e96" stroke-opacity="0.30" stroke-width="1.1" filter="url(#blur1)"/>
<path d="M225.0,1617.4 q6.9,13.5 5.2,11.5" fill="none" stroke="#8e8e96" stroke-opacity="0.22" stroke-width="1.1" filter="url(#blur1)"/>
<path d="M162.4,1621.3 q10.3,-6.2 -1.9,20.0" fill="none" stroke="#8e8e96" stroke-opacity="0.37" stroke-width="1.1" filter="url(#blur1)"/>
<path d="M246.3,1685.2 q-0.4,6.9 -0.8,-8.4" fill="none" stroke="#8e8e96" stroke-opacity="0.28" stroke-width="1.1" filter="url(#blur1)"/>
<path d="M117.7,1669.2 q14.7,13.8 5.1,-0.0" fill="none" stroke="#8e8e96" stroke-opacity="0.27" stroke-width="1.1" filter="url(#blur1)"/>
<path d="M108.8,1647.2 q8.5,11.0 -5.5,11.4" fill="none" stroke="#8e8e96" stroke-opacity="0.35" stroke-width="1.1" filter="url(#blur1)"/>
<path d="M202.7,1729.4 q7.8,-4.1 8.2,-8.8" fill="none" stroke="#8e8e96" stroke-opacity="0.30" stroke-width="1.1" filter="url(#blur1)"/>
<path d="M214.3,1735.1 q-6.2,13.4 6.0,3.2" fill="none" stroke="#8e8e96" stroke-opacity="0.20" stroke-width="1.1" filter="url(#blur1)"/>
<path d="M179.8,1642.6 q5.1,-1.1 12.7,5.9" fill="none" stroke="#8e8e96" stroke-opacity="0.36" stroke-width="1.1" filter="url(#blur1)"/>
<path d="M148.9,1725.3 q7.1,9.8 -6.0,13.7" fill="none" stroke="#8e8e96" stroke-opacity="0.37" stroke-width="1.1" filter="url(#blur1)"/>
<path d="M201.7,1795.0 q13.7,0.5 1.2,-13.4" fill="none" stroke="#8e8e96" stroke-opacity="0.37" stroke-width="1.1" filter="url(#blur1)"/>
<path d="M240.3,1690.2 q5.7,6.6 9.2,-13.1" fill="none" stroke="#8e8e96" stroke-opacity="0.36" stroke-width="1.1" filter="url(#blur1)"/>
<path d="M185.0,1729.8 q-2.4,3.7 11.0,5.5" fill="none" stroke="#8e8e96" stroke-opacity="0.34" stroke-width="1.1" filter="url(#blur1)"/>
<path d="M99.3,1623.6 q-1.8,4.5 -11.2,7.4" fill="none" stroke="#8e8e96" stroke-opacity="0.33" stroke-width="1.1" filter="url(#blur1)"/>
<path d="M101.5,1689.0 q-8.2,-13.4 -14.7,-7.3" fill="none" stroke="#8e8e96" stroke-opacity="0.24" stroke-width="1.1" filter="url(#blur1)"/>
<path d="M125.0,1597.5 q-1.0,-3.6 4.5,3.6" fill="none" stroke="#8e8e96" stroke-opacity="0.25" stroke-width="1.1" filter="url(#blur1)"/>
<path d="M235.0,1590.1 q-2.8,-6.6 -3.6,-15.4" fill="none" stroke="#8e8e96" stroke-opacity="0.37" stroke-width="1.1" filter="url(#blur1)"/>
<path d="M153.0,1597.6 q3.4,-12.2 1.8,-6.4" fill="none" stroke="#8e8e96" stroke-opacity="0.32" stroke-width="1.1" filter="url(#blur1)"/>
<path d="M243.5,1761.9 q-2.4,9.4 5.7,-5.2" fill="none" stroke="#8e8e96" stroke-opacity="0.23" stroke-width="1.1" filter="url(#blur1)"/>
<path d="M187.4,1708.4 q13.7,14.0 4.3,-6.0" fill="none" stroke="#8e8e96" stroke-opacity="0.38" stroke-width="1.1" filter="url(#blur1)"/>
<path d="M95.1,1612.7 q2.0,3.5 -14.4,5.2" fill="none" stroke="#8e8e96" stroke-opacity="0.38" stroke-width="1.1" filter="url(#blur1)"/>
<path d="M153.3,1680.7 q-8.2,-6.3 18.9,-4.8" fill="none" stroke="#8e8e96" stroke-opacity="0.39" stroke-width="1.1" filter="url(#blur1)"/>
<path d="M236.6,1715.1 q-7.2,14.4 -0.1,-3.4" fill="none" stroke="#8e8e96" stroke-opacity="0.26" stroke-width="1.1" filter="url(#blur1)"/>
<ellipse cx="128" cy="1650" rx="16" ry="10" fill="none" stroke="#8e8e96" stroke-opacity="0.35" stroke-width="1.3" filter="url(#blur1)"/>
<line x1="156" y1="1800" x2="156" y2="1870" stroke="#f4f4f6" stroke-opacity="0.7" stroke-width="1"/>
<rect x="156" y="1800" width="100" height="70" fill="#ffffff" fill-opacity="0.12"/>
<path d="M168.2,1763.2 L183.5,1746.2 L207.3,1736 L221,1722.4 L232.9,1722.4 L237.1,1729.2 L234.6,1746.2 L227.8,1770 L215.8,1785.4 L200.5,1793.9 L183.5,1793.9 L171.6,1785.4 Z" fill="#98989c" fill-opacity="0.92" stroke="#85858a" stroke-width="0.8" stroke-linejoin="round" filter="url(#blur1)"/>
<ellipse cx="228" cy="1730" rx="8" ry="7" fill="#aaaaae" filter="url(#blur1)"/>
<path d="M180,1782 C190,1770 200,1768 210,1765 C220,1762 228,1758 234,1758" fill="none" stroke="#78c878" stroke-width="2.2" stroke-opacity="0.55"/>
<path d="M192,1775 l6,8 M205,1768 l-3,10" fill="none" stroke="#78c878" stroke-width="1.8" stroke-opacity="0.5"/>
<polyline points="76.0,1658.0 84.0,1662.0 90.0,1661.0 93.0,1655.0 93.0,1663.0 95.0,1672.0 96.0,1682.0 99.0,1690.0 103.0,1697.0 108.6,1703.6 113.0,1713.0 118.8,1724.0 124.0,1732.0 129.0,1739.4 135.8,1748.0 139.2,1751.3 137.5,1761.5 139.2,1771.7 144.0,1780.0 146.0,1785.4 142.6,1792.2" fill="none" stroke="#2ecc2e" stroke-width="4.4" stroke-linejoin="round" stroke-linecap="round"/>
<polyline points="76.0,1658.0 84.0,1662.0 90.0,1661.0 93.0,1655.0 93.0,1663.0 95.0,1672.0 96.0,1682.0 99.0,1690.0 103.0,1697.0 108.6,1703.6 113.0,1713.0 118.8,1724.0 124.0,1732.0 129.0,1739.4 135.8,1748.0 139.2,1751.3 137.5,1761.5 139.2,1771.7 144.0,1780.0 146.0,1785.4 142.6,1792.2" fill="none" stroke="#7ee87e" stroke-width="1.2" stroke-linejoin="round" stroke-linecap="round" stroke-opacity="0.6" transform="translate(-0.8 -0.6)"/>
<polyline points="89,1670 91,1677 94,1684" fill="none" stroke="#2ecc2e" stroke-width="4" stroke-linecap="round"/>
<path d="M139.2,1747.9 C145,1744 150,1743 152.8,1742.8 C160,1741 168,1740.5 173.3,1741.1 C178,1742 182,1744 183.5,1746.2" fill="none" stroke="#2ecc2e" stroke-width="3" stroke-linecap="round"/>
<polyline points="146,1785.4 152.8,1790.5 160,1789 166.5,1788.8" fill="none" stroke="#2ecc2e" stroke-width="3.2" stroke-linecap="round"/>
<circle cx="151.7" cy="1776.2" r="2.5" fill="#33dd33"/>
<circle cx="134.4" cy="1782.4" r="3.4" fill="#22aa22"/>
<circle cx="139.3" cy="1786.9" r="3.2" fill="#2ecc2e"/>
<circle cx="142.6" cy="1778.7" r="2.5" fill="#33dd33"/>
<circle cx="148.1" cy="1767.1" r="2.5" fill="#22aa22"/>
<circle cx="147.0" cy="1768.6" r="2.8" fill="#33dd33"/>
<circle cx="143.3" cy="1789.9" r="3.3" fill="#2ecc2e"/>
<circle cx="134.3" cy="1762.7" r="2.5" fill="#1a8c1a"/>
<circle cx="145.0" cy="1785.1" r="2.2" fill="#1a8c1a"/>
<circle cx="140.5" cy="1785.6" r="2.9" fill="#2ecc2e"/>
<circle cx="134.1" cy="1778.5" r="3.0" fill="#2ecc2e"/>
<circle cx="150.0" cy="1778.2" r="2.2" fill="#33dd33"/>
<circle cx="144.7" cy="1783.5" r="3.3" fill="#33dd33"/>
<circle cx="149.5" cy="1789.1" r="2.8" fill="#22aa22"/>
<circle cx="150.2" cy="1775.2" r="3.1" fill="#1a8c1a"/>
<circle cx="149.1" cy="1783.7" r="2.7" fill="#1a8c1a"/>
<circle cx="145.7" cy="1775.5" r="2.6" fill="#22aa22"/>
<circle cx="142.6" cy="1778.3" r="2.8" fill="#1a8c1a"/>
<circle cx="143.7" cy="1773.7" r="2.8" fill="#2ecc2e"/>
<circle cx="135.2" cy="1766.5" r="3.2" fill="#2ecc2e"/>
<circle cx="145.9" cy="1758.9" r="3.1" fill="#2ecc2e"/>
<circle cx="152.0" cy="1783.9" r="2.3" fill="#2ecc2e"/>
<circle cx="137.9" cy="1781.9" r="3.3" fill="#22aa22"/>
<circle cx="151.9" cy="1784.1" r="2.7" fill="#22aa22"/>
<circle cx="145.0" cy="1773.3" r="2.4" fill="#22aa22"/>
<circle cx="134.8" cy="1762.0" r="2.7" fill="#2ecc2e"/>
<circle cx="98" cy="1688" r="2.4" fill="#2ecc2e"/>
<circle cx="101" cy="1695" r="2.4" fill="#2ecc2e"/>
<circle cx="93" cy="1667" r="2.4" fill="#2ecc2e"/>
<circle cx="132" cy="1742" r="2.4" fill="#2ecc2e"/>
<circle cx="136" cy="1746" r="2.4" fill="#2ecc2e"/>
<circle cx="140" cy="1752" r="2.4" fill="#2ecc2e"/>
<circle cx="233" cy="1760" r="2.6" fill="#2ecc2e"/>
</g>
<text transform="translate(32.42 1555.53) scale(1.2097 1)" font-size="48.07" font-weight="bold" font-style="normal" fill="#000" stroke="#000" stroke-width="1">d</text>
<text transform="translate(35.87 1622.80) scale(0.9509 1)" font-size="49.13" font-weight="bold" font-style="normal" fill="#555" stroke="#555" stroke-width="1.2">LH</text>
<text transform="translate(36.10 1826.00) scale(0.9185 1)" font-size="47.24" font-weight="bold" font-style="normal" fill="#555" stroke="#555" stroke-width="1.2">PLP</text>
<defs><clipPath id="eclip"><rect x="21.3" y="1894.3" width="231.5" height="230.7"/></clipPath><filter id="blur3" x="-50%" y="-50%" width="200%" height="200%"><feGaussianBlur stdDeviation="5"/></filter><filter id="blur4" x="-50%" y="-50%" width="200%" height="200%"><feGaussianBlur stdDeviation="1.6"/></filter><filter id="grain" x="0" y="0" width="100%" height="100%"><feTurbulence type="fractalNoise" baseFrequency="0.35" numOctaves="2" seed="7"/><feColorMatrix type="matrix" values="0 0 0 0 1  0 0 0 0 1  0 0 0 0 1  0.6 0.6 0.6 0 -0.75"/></filter><filter id="grain2" x="0" y="0" width="100%" height="100%"><feTurbulence type="fractalNoise" baseFrequency="0.25" numOctaves="2" seed="3"/><feColorMatrix type="matrix" values="0 0 0 0 0  0 0 0 0 0  0 0 0 0 0  0.9 0.9 0.9 0 -1.0"/></filter></defs>
<rect x="21.3" y="1894.3" width="231.5" height="230.7" fill="#080808"/>
<g clip-path="url(#eclip)">
<ellipse cx="105" cy="2050" rx="55" ry="12" transform="rotate(-35 105 2050)" fill="#1e1e1e" filter="url(#blur3)"/>
<ellipse cx="152" cy="2018" rx="42" ry="24" transform="rotate(-32 152 2018)" fill="#3a3a3a" filter="url(#blur3)"/>
<ellipse cx="142" cy="2035" rx="17" ry="13" transform="rotate(-20 142 2035)" fill="#8c8c8c" filter="url(#blur4)"/>
<ellipse cx="166" cy="2006" rx="21" ry="14" transform="rotate(-35 166 2006)" fill="#a8a8a8" filter="url(#blur4)"/>
<ellipse cx="163" cy="2009" rx="12" ry="7" transform="rotate(-35 163 2009)" fill="#888888" filter="url(#blur3)"/>
<ellipse cx="126" cy="2022" rx="16" ry="15" transform="rotate(-30 126 2022)" fill="#c4c4c4" filter="url(#blur4)"/>
<ellipse cx="123" cy="2025" rx="9" ry="7" transform="rotate(-30 123 2025)" fill="#8e8e8e" filter="url(#blur3)"/>
<circle cx="57" cy="1960" r="3" fill="#262626" filter="url(#blur4)"/>
<circle cx="40" cy="2030" r="3" fill="#262626" filter="url(#blur4)"/>
<circle cx="60" cy="2015" r="2.5" fill="#262626" filter="url(#blur4)"/>
<circle cx="75" cy="2075" r="3" fill="#262626" filter="url(#blur4)"/>
<circle cx="110" cy="2080" r="2.5" fill="#262626" filter="url(#blur4)"/>
<circle cx="190" cy="2035" r="4" fill="#262626" filter="url(#blur4)"/>
<circle cx="230" cy="2045" r="3" fill="#262626" filter="url(#blur4)"/>
<circle cx="243" cy="2000" r="3" fill="#262626" filter="url(#blur4)"/>
<circle cx="210" cy="2090" r="3" fill="#262626" filter="url(#blur4)"/>
<circle cx="160" cy="2100" r="3" fill="#262626" filter="url(#blur4)"/>
<circle cx="200" cy="1975" r="2.5" fill="#262626" filter="url(#blur4)"/>
<circle cx="85" cy="2030" r="2.5" fill="#262626" filter="url(#blur4)"/>
<rect x="21.3" y="1894.3" width="231.5" height="230.7" filter="url(#grain)" opacity="0.05"/>
</g>
<polygon points="55.5,1976.4 76.5,1952.8 111.8,2005.8" fill="#10f010"/>
<polygon points="90.8,1959.6 112.3,1936.4 147.1,1989" fill="#e840f5"/>
<rect x="37" y="2109" width="37" height="4.5" fill="#fff"/>
<text transform="translate(32.90 1933.08) scale(1.4338 1)" font-size="42.89" font-weight="bold" font-style="normal" fill="#fff" stroke="#fff" stroke-width="1">e</text>
<defs><clipPath id="gclip"><rect x="735.1" y="1508.3" width="215.7" height="205.3"/></clipPath></defs>
<rect x="735.1" y="1508.3" width="215.7" height="205.3" fill="#050505"/>
<g clip-path="url(#gclip)">
<polygon points="894.6,1529.9 911.9,1539.3 927.5,1555.0 938.5,1567.5 930.7,1586.3 919.7,1601.9 910.3,1617.6 900.9,1620.7 882.1,1616.0 875.9,1601.9 875.9,1586.3 882.1,1562.8 888.4,1539.3" fill="#8f8f8f" fill-opacity="1" filter="url(#blur4)"/>
<ellipse cx="912" cy="1572" rx="10" ry="8" fill="#b0b0b0" filter="url(#blur3)"/>
<ellipse cx="900" cy="1600" rx="12" ry="10" fill="#7a7a7a" filter="url(#blur3)"/>
<polygon points="744.4,1648.9 758.5,1630.1 777.3,1616.0 794.5,1608.2 797.6,1633.2 794.5,1648.9 782.0,1658.3 758.5,1658.3" fill="#6c6c6c" fill-opacity="1" filter="url(#blur4)"/>
<polygon points="785.1,1677.0 794.5,1645.7 805.4,1637.9 822.6,1642.6 838.3,1652.0 850.8,1666.1 844.6,1673.9 822.6,1680.2 800.7,1678.6" fill="#8e8e8e" fill-opacity="1" filter="url(#blur4)"/>
<polygon points="857.1,1645.7 868.0,1633.2 883.7,1636.3 891.5,1648.9 885.3,1664.5 872.7,1667.7 860.2,1658.3" fill="#2e2e2e" fill-opacity="1" filter="url(#blur4)"/>
<circle cx="798" cy="1555" r="2.5" fill="#303030" filter="url(#blur4)"/>
<circle cx="758" cy="1594" r="2.5" fill="#303030" filter="url(#blur4)"/>
<circle cx="820" cy="1567" r="2.5" fill="#303030" filter="url(#blur4)"/>
<circle cx="864" cy="1520" r="2.5" fill="#303030" filter="url(#blur4)"/>
<circle cx="872" cy="1526" r="2.5" fill="#303030" filter="url(#blur4)"/>
<circle cx="913" cy="1516" r="2.5" fill="#303030" filter="url(#blur4)"/>
<circle cx="946" cy="1511" r="2.5" fill="#303030" filter="url(#blur4)"/>
<circle cx="809" cy="1620" r="2.5" fill="#303030" filter="url(#blur4)"/>
<circle cx="860" cy="1622" r="2.5" fill="#303030" filter="url(#blur4)"/>
<circle cx="917" cy="1620" r="2.5" fill="#303030" filter="url(#blur4)"/>
<circle cx="789" cy="1548" r="2.5" fill="#303030" filter="url(#blur4)"/>
<circle cx="935" cy="1690" r="2.5" fill="#303030" filter="url(#blur4)"/>
<circle cx="948" cy="1575" r="2.5" fill="#303030" filter="url(#blur4)"/>
<rect x="735.1" y="1508.3" width="215.7" height="205.3" filter="url(#grain2)" opacity="0.35"/>
<rect x="735.1" y="1508.3" width="215.7" height="205.3" filter="url(#grain)" opacity="0.05"/>
</g>
<polygon points="843,1558.1 866.5,1580.8 811.7,1612.1" fill="#0a9a0a"/>
<polygon points="893.1,1640.3 902.8,1702.1 870.9,1698.2" fill="#f040f0"/>
<rect x="747.8" y="1698.8" width="49" height="4.2" fill="#fff"/>
<text transform="translate(745.13 1553.71) scale(1.1540 1)" font-size="49.97" font-weight="bold" font-style="normal" fill="#fff" stroke="#fff" stroke-width="1">g</text>
</svg></body></html>
